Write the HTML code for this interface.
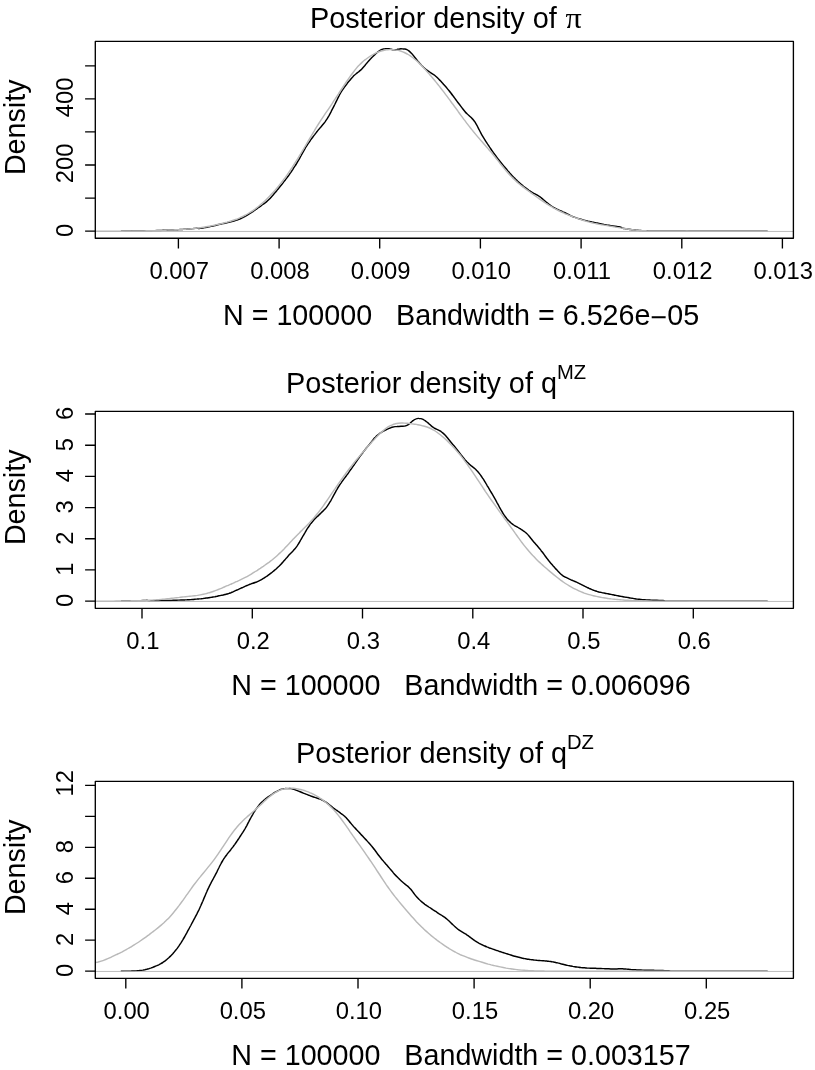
<!DOCTYPE html>
<html lang="en"><head><meta charset="utf-8"><title>Posterior densities</title>
<style>html,body{margin:0;padding:0;background:#fff}svg{display:block}text{white-space:pre;font-family:"Liberation Sans",Arial,Helvetica,sans-serif;fill:#000}.t{font-size:28.85px}.b{font-size:28.7px}.a{font-size:23.8px}.s{font-size:20.2px}.pi{font-family:"Liberation Serif","DejaVu Serif",serif;font-size:29.7px}</style></head><body>
<svg width="815" height="1070" viewBox="0 0 815 1070">
<rect width="815" height="1070" fill="#fff"/>
<g fill="none" stroke-linecap="butt" stroke-linejoin="round">
<path d="M120.9 231.2C121.2 231.2 122.2 231.2 122.9 231.1C123.5 231.1 124.2 231.1 124.9 231.1C125.5 231.1 126.2 231.1 126.9 231.1C127.5 231.1 128.2 231.1 128.9 231.1C129.5 231.1 130.2 231.1 130.9 231.1C131.5 231.1 132.2 231.1 132.9 231.0C133.5 231.0 134.2 231.0 134.9 231.0C135.5 231.0 136.2 231.0 136.9 231.0C137.5 231.0 138.2 231.0 138.9 230.9C139.5 230.9 140.2 230.9 140.9 230.9C141.5 230.9 142.2 230.9 142.9 230.9C143.5 230.9 144.2 230.8 144.9 230.8C145.5 230.8 146.2 230.8 146.9 230.8C147.5 230.8 148.2 230.7 148.9 230.7C149.5 230.7 150.2 230.7 150.9 230.7C151.5 230.7 152.2 230.6 152.9 230.6C153.5 230.6 154.2 230.6 154.9 230.6C155.5 230.5 156.2 230.5 156.9 230.5C157.5 230.5 158.2 230.5 158.9 230.4C159.5 230.4 160.2 230.4 160.9 230.4C161.5 230.4 162.2 230.3 162.9 230.3C163.5 230.3 164.2 230.3 164.9 230.2C165.5 230.2 166.2 230.2 166.9 230.2C167.5 230.1 168.2 230.1 168.9 230.1C169.5 230.0 170.2 230.0 170.9 230.0C171.5 230.0 172.2 229.9 172.9 229.9C173.5 229.9 174.2 229.8 174.9 229.8C175.5 229.8 176.2 229.7 176.9 229.7C177.5 229.7 178.2 229.6 178.9 229.6C179.5 229.6 180.2 229.5 180.9 229.5C181.5 229.4 182.2 229.4 182.9 229.4C183.5 229.3 184.2 229.3 184.9 229.2C185.5 229.2 186.2 229.1 186.9 229.1C187.5 229.0 188.2 229.0 188.9 228.9C189.5 228.9 190.2 228.8 190.9 228.8C191.5 228.7 192.2 228.7 192.9 228.6C193.5 228.5 194.2 228.5 194.9 228.4C195.5 228.3 196.2 228.2 196.9 228.2C197.5 228.2 198.2 228.5 198.9 228.5C199.5 228.5 200.2 228.3 200.9 228.2C201.5 228.2 202.2 228.1 202.9 228.0C203.5 227.9 204.2 227.7 204.9 227.6C205.5 227.5 206.2 227.4 206.9 227.3C207.5 227.1 208.2 227.0 208.9 226.8C209.5 226.7 210.2 226.6 210.9 226.4C211.5 226.3 212.2 226.1 212.9 226.0C213.5 225.8 214.2 225.6 214.9 225.5C215.5 225.3 216.2 225.2 216.9 225.0C217.5 224.9 218.2 224.7 218.9 224.5C219.5 224.4 220.2 224.2 220.9 224.1C221.5 223.9 222.2 223.8 222.9 223.6C223.5 223.5 224.2 223.3 224.9 223.2C225.5 223.0 226.2 222.9 226.9 222.7C227.5 222.6 228.2 222.4 228.9 222.3C229.5 222.1 230.2 222.0 230.9 221.8C231.5 221.6 232.2 221.4 232.9 221.3C233.5 221.1 234.2 220.9 234.9 220.7C235.5 220.5 236.2 220.3 236.9 220.1C237.5 219.9 238.2 219.6 238.9 219.4C239.5 219.1 240.2 218.8 240.9 218.5C241.5 218.2 242.2 217.9 242.9 217.6C243.5 217.2 244.2 216.9 244.9 216.5C245.5 216.1 246.2 215.8 246.9 215.4C247.5 215.0 248.2 214.6 248.9 214.2C249.5 213.8 250.2 213.4 250.9 212.9C251.5 212.5 252.2 212.1 252.9 211.6C253.5 211.1 254.2 210.7 254.9 210.2C255.5 209.7 256.2 209.2 256.9 208.8C257.5 208.3 258.2 207.8 258.9 207.4C259.5 206.9 260.2 206.4 260.9 206.0C261.5 205.5 262.2 205.0 262.9 204.5C263.5 204.0 264.2 203.6 264.9 203.0C265.5 202.5 266.2 202.0 266.9 201.4C267.5 200.8 268.2 200.2 268.9 199.5C269.5 198.9 270.2 198.2 270.9 197.4C271.5 196.7 272.2 195.9 272.9 195.2C273.5 194.4 274.2 193.6 274.9 192.8C275.5 192.0 276.2 191.2 276.9 190.4C277.5 189.6 278.2 188.8 278.9 188.0C279.5 187.2 280.2 186.4 280.9 185.6C281.5 184.8 282.2 184.0 282.9 183.1C283.5 182.3 284.2 181.4 284.9 180.6C285.5 179.7 286.2 178.8 286.9 177.9C287.5 177.0 288.2 176.1 288.9 175.2C289.5 174.2 290.2 173.3 290.9 172.3C291.5 171.3 292.2 170.3 292.9 169.3C293.5 168.3 294.2 167.3 294.9 166.2C295.5 165.2 296.2 164.1 296.9 163.0C297.5 161.9 298.2 160.8 298.9 159.6C299.5 158.5 300.2 157.3 300.9 156.0C301.5 154.8 302.2 153.6 302.9 152.4C303.5 151.2 304.2 150.0 304.9 148.8C305.5 147.7 306.2 146.6 306.9 145.6C307.5 144.5 308.2 143.5 308.9 142.6C309.5 141.6 310.2 140.7 310.9 139.7C311.5 138.8 312.2 137.9 312.9 137.0C313.5 136.2 314.2 135.3 314.9 134.4C315.5 133.5 316.2 132.7 316.9 131.8C317.5 131.0 318.2 130.1 318.9 129.3C319.5 128.5 320.2 127.8 320.9 127.0C321.5 126.2 322.2 125.4 322.9 124.6C323.5 123.8 324.2 123.0 324.9 122.1C325.5 121.2 326.2 120.2 326.9 119.2C327.5 118.1 328.2 117.0 328.9 115.8C329.5 114.7 330.2 113.4 330.9 112.1C331.5 110.8 332.2 109.5 332.9 108.2C333.5 106.9 334.2 105.6 334.9 104.2C335.5 102.9 336.2 101.5 336.9 100.1C337.5 98.8 338.2 97.4 338.9 96.1C339.5 94.9 340.2 93.7 340.9 92.5C341.5 91.4 342.2 90.4 342.9 89.4C343.5 88.4 344.2 87.5 344.9 86.5C345.5 85.6 346.2 84.7 346.9 83.9C347.5 83.0 348.2 82.1 348.9 81.3C349.5 80.5 350.2 79.7 350.9 78.9C351.5 78.2 352.2 77.4 352.9 76.7C353.5 76.0 354.2 75.4 354.9 74.8C355.5 74.2 356.2 73.7 356.9 73.1C357.5 72.6 358.2 72.1 358.9 71.6C359.5 71.1 360.2 70.5 360.9 69.9C361.5 69.3 362.2 68.6 362.9 67.8C363.5 67.1 364.2 66.3 364.9 65.5C365.5 64.7 366.2 63.8 366.9 63.0C367.5 62.2 368.2 61.5 368.9 60.7C369.5 60.0 370.2 59.2 370.9 58.5C371.5 57.8 372.2 57.1 372.9 56.5C373.5 55.8 374.2 55.2 374.9 54.6C375.5 53.9 376.2 53.4 376.9 52.8C377.5 52.2 378.2 51.7 378.9 51.2C379.5 50.7 380.2 50.3 380.9 49.9C381.5 49.6 382.2 49.3 382.9 49.1C383.5 49.0 384.2 48.8 384.9 48.8C385.5 48.7 386.2 48.6 386.9 48.6C387.5 48.6 388.2 48.7 388.9 48.8C389.5 48.9 390.2 49.1 390.9 49.2C391.5 49.4 392.2 49.6 392.9 49.7C393.5 49.7 394.2 49.8 394.9 49.8C395.5 49.7 396.2 49.6 396.9 49.5C397.5 49.4 398.2 49.2 398.9 49.1C399.5 49.0 400.2 48.9 400.9 48.8C401.5 48.8 402.2 48.8 402.9 48.9C403.5 48.9 404.2 48.9 404.9 49.0C405.5 49.1 406.2 49.3 406.9 49.6C407.5 49.9 408.2 50.3 408.9 50.9C409.5 51.4 410.2 52.0 410.9 52.7C411.5 53.4 412.2 54.1 412.9 54.9C413.5 55.7 414.2 56.6 414.9 57.5C415.5 58.3 416.2 59.2 416.9 60.0C417.5 60.8 418.2 61.6 418.9 62.3C419.5 63.1 420.2 63.9 420.9 64.6C421.5 65.3 422.2 66.0 422.9 66.6C423.5 67.3 424.2 67.9 424.9 68.5C425.5 69.0 426.2 69.6 426.9 70.1C427.5 70.6 428.2 71.1 428.9 71.5C429.5 72.0 430.2 72.4 430.9 72.8C431.5 73.2 432.2 73.6 432.9 74.1C433.5 74.5 434.2 75.0 434.9 75.5C435.5 76.0 436.2 76.6 436.9 77.2C437.5 77.9 438.2 78.5 438.9 79.2C439.5 79.9 440.2 80.6 440.9 81.3C441.5 82.1 442.2 82.8 442.9 83.5C443.5 84.3 444.2 85.0 444.9 85.8C445.5 86.5 446.2 87.3 446.9 88.1C447.5 88.9 448.2 89.7 448.9 90.5C449.5 91.3 450.2 92.2 450.9 93.0C451.5 93.9 452.2 94.8 452.9 95.7C453.5 96.6 454.2 97.5 454.9 98.4C455.5 99.3 456.2 100.2 456.9 101.1C457.5 102.0 458.2 102.9 458.9 103.8C459.5 104.6 460.2 105.5 460.9 106.4C461.5 107.3 462.2 108.2 462.9 109.0C463.5 109.9 464.2 110.7 464.9 111.5C465.5 112.3 466.2 113.0 466.9 113.6C467.5 114.3 468.2 114.9 468.9 115.5C469.5 116.1 470.2 116.7 470.9 117.3C471.5 118.0 472.2 118.6 472.9 119.3C473.5 120.1 474.2 120.9 474.9 121.9C475.5 122.9 476.2 124.1 476.9 125.3C477.5 126.5 478.2 128.0 478.9 129.3C479.5 130.6 480.2 131.9 480.9 133.1C481.5 134.3 482.2 135.5 482.9 136.6C483.5 137.7 484.2 138.8 484.9 139.8C485.5 140.9 486.2 141.9 486.9 143.0C487.5 144.0 488.2 145.0 488.9 146.0C489.5 147.0 490.2 148.0 490.9 149.0C491.5 149.9 492.2 150.9 492.9 151.9C493.5 152.8 494.2 153.7 494.9 154.7C495.5 155.6 496.2 156.5 496.9 157.4C497.5 158.3 498.2 159.2 498.9 160.0C499.5 160.9 500.2 161.7 500.9 162.5C501.5 163.3 502.2 164.1 502.9 164.9C503.5 165.7 504.2 166.4 504.9 167.2C505.5 168.0 506.2 168.8 506.9 169.6C507.5 170.4 508.2 171.2 508.9 171.9C509.5 172.7 510.2 173.5 510.9 174.2C511.5 175.0 512.2 175.7 512.9 176.4C513.5 177.1 514.2 177.8 514.9 178.4C515.5 179.1 516.2 179.8 516.9 180.4C517.5 181.1 518.2 181.7 518.9 182.3C519.5 182.9 520.2 183.5 520.9 184.1C521.5 184.7 522.2 185.2 522.9 185.8C523.5 186.3 524.2 186.9 524.9 187.4C525.5 187.9 526.2 188.4 526.9 188.9C527.5 189.4 528.2 189.9 528.9 190.4C529.5 190.8 530.2 191.3 530.9 191.7C531.5 192.1 532.2 192.5 532.9 192.9C533.5 193.3 534.2 193.6 534.9 193.9C535.5 194.2 536.2 194.5 536.9 194.9C537.5 195.3 538.2 195.6 538.9 196.1C539.5 196.5 540.2 197.0 540.9 197.5C541.5 198.1 542.2 198.7 542.9 199.2C543.5 199.8 544.2 200.3 544.9 200.9C545.5 201.5 546.2 202.0 546.9 202.6C547.5 203.1 548.2 203.7 548.9 204.2C549.5 204.7 550.2 205.2 550.9 205.7C551.5 206.1 552.2 206.6 552.9 207.0C553.5 207.4 554.2 207.7 554.9 208.1C555.5 208.5 556.2 208.8 556.9 209.2C557.5 209.5 558.2 209.8 558.9 210.1C559.5 210.5 560.2 210.7 560.9 211.0C561.5 211.3 562.2 211.6 562.9 211.9C563.5 212.1 564.2 212.4 564.9 212.7C565.5 213.0 566.2 213.3 566.9 213.7C567.5 214.0 568.2 214.4 568.9 214.7C569.5 215.1 570.2 215.4 570.9 215.8C571.5 216.1 572.2 216.4 572.9 216.7C573.5 216.9 574.2 217.2 574.9 217.4C575.5 217.7 576.2 217.9 576.9 218.1C577.5 218.3 578.2 218.5 578.9 218.7C579.5 218.9 580.2 219.1 580.9 219.3C581.5 219.5 582.2 219.7 582.9 219.9C583.5 220.1 584.2 220.3 584.9 220.4C585.5 220.6 586.2 220.8 586.9 220.9C587.5 221.1 588.2 221.2 588.9 221.4C589.5 221.5 590.2 221.7 590.9 221.8C591.5 221.9 592.2 222.1 592.9 222.2C593.5 222.3 594.2 222.4 594.9 222.6C595.5 222.7 596.2 222.8 596.9 223.0C597.5 223.1 598.2 223.2 598.9 223.4C599.5 223.5 600.2 223.6 600.9 223.8C601.5 223.9 602.2 224.1 602.9 224.2C603.5 224.3 604.2 224.5 604.9 224.6C605.5 224.7 606.2 224.8 606.9 225.0C607.5 225.1 608.2 225.2 608.9 225.3C609.5 225.4 610.2 225.5 610.9 225.6C611.5 225.7 612.2 225.8 612.9 225.9C613.5 226.0 614.2 226.1 614.9 226.2C615.5 226.3 616.2 226.4 616.9 226.5C617.5 226.6 618.2 226.7 618.9 226.8C619.5 227.0 620.2 227.0 620.9 227.2C621.5 227.5 622.2 228.1 622.9 228.3C623.5 228.5 624.2 228.5 624.9 228.6C625.5 228.7 626.2 228.8 626.9 228.9C627.5 229.0 628.2 229.1 628.9 229.2C629.5 229.3 630.2 229.4 630.9 229.5C631.5 229.6 632.2 229.7 632.9 229.8C633.5 229.8 634.2 229.9 634.9 230.0C635.5 230.1 636.2 230.1 636.9 230.2C637.5 230.3 638.2 230.3 638.9 230.4C639.5 230.4 640.2 230.5 640.9 230.5C641.5 230.6 642.2 230.6 642.9 230.7C643.5 230.7 644.2 230.7 644.9 230.8C645.5 230.8 646.2 230.8 646.9 230.8C647.5 230.9 648.2 230.9 648.9 230.9C649.5 230.9 650.2 230.9 650.9 230.9C651.5 230.9 652.2 231.0 652.9 231.0C653.5 231.0 654.2 231.0 654.9 231.0C655.5 231.0 656.2 231.0 656.9 231.0C657.5 231.0 658.2 231.0 658.9 231.0C659.5 231.0 660.2 231.0 660.9 231.0C661.5 231.0 662.2 230.9 662.9 230.9C663.5 230.9 664.2 230.9 664.9 230.9C665.5 230.9 666.2 230.9 666.9 230.9C667.5 230.9 668.2 230.9 668.9 230.9C669.5 230.9 670.2 231.0 670.9 231.0C671.5 231.0 672.2 231.0 672.9 231.0C673.5 231.0 674.2 231.0 674.9 231.0C675.5 231.0 676.2 231.0 676.9 231.0C677.5 231.0 678.2 231.0 678.9 231.0C679.5 231.0 680.2 231.0 680.9 231.0C681.5 231.0 682.2 231.0 682.9 231.0C683.5 231.0 684.2 231.0 684.9 231.0C685.5 231.0 686.2 231.0 686.9 231.1C687.5 231.1 688.2 231.1 688.9 231.1C689.5 231.1 690.2 231.1 690.9 231.1C691.5 231.1 692.2 231.1 692.9 231.1C693.5 231.1 694.2 231.1 694.9 231.1C695.5 231.1 696.2 231.1 696.9 231.1C697.5 231.1 698.2 231.1 698.9 231.1C699.5 231.1 700.2 231.1 700.9 231.1C701.5 231.1 702.2 231.1 702.9 231.1C703.5 231.1 704.2 231.1 704.9 231.1C705.5 231.1 706.2 231.1 706.9 231.1C707.5 231.1 708.2 231.1 708.9 231.1C709.5 231.1 710.2 231.1 710.9 231.1C711.5 231.1 712.2 231.1 712.9 231.1C713.5 231.1 714.2 231.1 714.9 231.1C715.5 231.1 716.2 231.1 716.9 231.1C717.5 231.1 718.2 231.1 718.9 231.1C719.5 231.1 720.2 231.1 720.9 231.1C721.5 231.1 722.2 231.1 722.9 231.1C723.5 231.1 724.2 231.1 724.9 231.1C725.5 231.1 726.2 231.1 726.9 231.1C727.5 231.1 728.2 231.1 728.9 231.1C729.5 231.1 730.2 231.1 730.9 231.1C731.5 231.1 732.2 231.1 732.9 231.1C733.5 231.1 734.2 231.1 734.9 231.1C735.5 231.1 736.2 231.1 736.9 231.1C737.5 231.1 738.2 231.1 738.9 231.1C739.5 231.1 740.2 231.1 740.9 231.1C741.5 231.1 742.2 231.1 742.9 231.1C743.5 231.1 744.2 231.1 744.9 231.1C745.5 231.1 746.2 231.1 746.9 231.1C747.5 231.1 748.2 231.1 748.9 231.1C749.5 231.1 750.2 231.1 750.9 231.1C751.5 231.1 752.2 231.1 752.9 231.1C753.5 231.1 754.2 231.1 754.9 231.1C755.5 231.1 756.2 231.1 756.9 231.1C757.5 231.1 758.2 231.1 758.9 231.1C759.5 231.1 760.2 231.1 760.9 231.1C761.5 231.1 762.2 231.1 762.9 231.1C763.5 231.1 764.2 231.1 764.9 231.1C765.5 231.1 766.4 231.1 766.9 231.1C767.3 231.1 767.4 231.1 767.5 231.1" stroke="#000" stroke-width="1.45"/>
<path d="M95.3 231.45H793.4" stroke="#b4b4b4" stroke-width="0.9"/>
<path d="M95.3 231.2C95.8 231.2 97.3 231.2 98.3 231.2C99.3 231.2 100.3 231.2 101.3 231.2C102.3 231.2 103.3 231.2 104.3 231.2C105.3 231.2 106.3 231.2 107.3 231.2C108.3 231.2 109.3 231.2 110.3 231.2C111.3 231.2 112.3 231.2 113.3 231.2C114.3 231.2 115.3 231.2 116.3 231.2C117.3 231.2 118.3 231.2 119.3 231.2C120.3 231.2 121.3 231.2 122.3 231.2C123.3 231.1 124.3 231.1 125.3 231.1C126.3 231.1 127.3 231.1 128.3 231.1C129.3 231.1 130.3 231.1 131.3 231.1C132.3 231.1 133.3 231.0 134.3 231.0C135.3 231.0 136.3 231.0 137.3 231.0C138.3 231.0 139.3 230.9 140.3 230.9C141.3 230.9 142.3 230.9 143.3 230.9C144.3 230.8 145.3 230.8 146.3 230.8C147.3 230.8 148.3 230.7 149.3 230.7C150.3 230.7 151.3 230.7 152.3 230.6C153.3 230.6 154.3 230.6 155.3 230.6C156.3 230.5 157.3 230.5 158.3 230.5C159.3 230.4 160.3 230.4 161.3 230.4C162.3 230.3 163.3 230.3 164.3 230.3C165.3 230.2 166.3 230.2 167.3 230.1C168.3 230.1 169.3 230.1 170.3 230.0C171.3 230.0 172.3 229.9 173.3 229.9C174.3 229.8 175.3 229.8 176.3 229.7C177.3 229.7 178.3 229.6 179.3 229.6C180.3 229.5 181.3 229.4 182.3 229.4C183.3 229.3 184.3 229.3 185.3 229.2C186.3 229.1 187.3 229.1 188.3 229.0C189.3 228.9 190.3 228.8 191.3 228.7C192.3 228.7 193.3 228.6 194.3 228.5C195.3 228.4 196.3 228.3 197.3 228.1C198.3 228.0 199.3 227.9 200.3 227.7C201.3 227.6 202.3 227.5 203.3 227.3C204.3 227.1 205.3 227.0 206.3 226.8C207.3 226.6 208.3 226.4 209.3 226.2C210.3 226.0 211.3 225.8 212.3 225.6C213.3 225.4 214.3 225.2 215.3 225.0C216.3 224.7 217.3 224.5 218.3 224.3C219.3 224.1 220.3 223.8 221.3 223.6C222.3 223.3 223.3 223.1 224.3 222.8C225.3 222.6 226.3 222.3 227.3 222.1C228.3 221.8 229.3 221.5 230.3 221.2C231.3 220.9 232.3 220.6 233.3 220.3C234.3 220.0 235.3 219.6 236.3 219.3C237.3 218.9 238.3 218.5 239.3 218.1C240.3 217.7 241.3 217.2 242.3 216.7C243.3 216.3 244.3 215.8 245.3 215.2C246.3 214.7 247.3 214.1 248.3 213.5C249.3 212.9 250.3 212.3 251.3 211.6C252.3 211.0 253.3 210.3 254.3 209.6C255.3 208.9 256.3 208.1 257.3 207.3C258.3 206.6 259.3 205.7 260.3 204.9C261.3 204.0 262.3 203.1 263.3 202.2C264.3 201.3 265.3 200.4 266.3 199.4C267.3 198.4 268.3 197.4 269.3 196.4C270.3 195.4 271.3 194.4 272.3 193.3C273.3 192.2 274.3 191.1 275.3 190.0C276.3 188.8 277.3 187.6 278.3 186.4C279.3 185.2 280.3 184.0 281.3 182.7C282.3 181.4 283.3 180.1 284.3 178.8C285.3 177.4 286.3 176.0 287.3 174.6C288.3 173.2 289.3 171.7 290.3 170.2C291.3 168.7 292.3 167.2 293.3 165.6C294.3 164.1 295.3 162.5 296.3 160.9C297.3 159.3 298.3 157.7 299.3 156.0C300.3 154.4 301.3 152.7 302.3 151.0C303.3 149.4 304.3 147.7 305.3 146.0C306.3 144.3 307.3 142.6 308.3 140.9C309.3 139.2 310.3 137.5 311.3 135.8C312.3 134.1 313.3 132.4 314.3 130.8C315.3 129.1 316.3 127.5 317.3 125.9C318.3 124.3 319.3 122.7 320.3 121.1C321.3 119.6 322.3 118.1 323.3 116.6C324.3 115.2 325.3 113.7 326.3 112.2C327.3 110.8 328.3 109.3 329.3 107.8C330.3 106.3 331.3 104.8 332.3 103.3C333.3 101.7 334.3 100.2 335.3 98.7C336.3 97.1 337.3 95.6 338.3 94.1C339.3 92.5 340.3 91.0 341.3 89.5C342.3 88.0 343.3 86.5 344.3 85.0C345.3 83.5 346.3 82.0 347.3 80.5C348.3 79.1 349.3 77.6 350.3 76.2C351.3 74.8 352.3 73.5 353.3 72.2C354.3 70.9 355.3 69.6 356.3 68.4C357.3 67.2 358.3 66.1 359.3 65.1C360.3 64.0 361.3 63.0 362.3 62.1C363.3 61.2 364.3 60.4 365.3 59.7C366.3 58.9 367.3 58.2 368.3 57.5C369.3 56.8 370.3 56.1 371.3 55.5C372.3 54.9 373.3 54.3 374.3 53.8C375.3 53.3 376.3 52.8 377.3 52.4C378.3 52.0 379.3 51.6 380.3 51.3C381.3 51.0 382.3 50.7 383.3 50.5C384.3 50.2 385.3 50.1 386.3 49.9C387.3 49.8 388.3 49.7 389.3 49.6C390.3 49.6 391.3 49.6 392.3 49.6C393.3 49.7 394.3 49.7 395.3 49.9C396.3 50.0 397.3 50.2 398.3 50.4C399.3 50.7 400.3 51.0 401.3 51.3C402.3 51.7 403.3 52.1 404.3 52.5C405.3 53.0 406.3 53.5 407.3 54.0C408.3 54.6 409.3 55.2 410.3 55.9C411.3 56.6 412.3 57.3 413.3 58.0C414.3 58.8 415.3 59.6 416.3 60.5C417.3 61.4 418.3 62.3 419.3 63.3C420.3 64.3 421.3 65.3 422.3 66.3C423.3 67.4 424.3 68.4 425.3 69.5C426.3 70.6 427.3 71.8 428.3 72.9C429.3 74.1 430.3 75.2 431.3 76.4C432.3 77.6 433.3 78.8 434.3 80.0C435.3 81.2 436.3 82.5 437.3 83.7C438.3 85.0 439.3 86.2 440.3 87.5C441.3 88.8 442.3 90.1 443.3 91.4C444.3 92.7 445.3 94.1 446.3 95.4C447.3 96.7 448.3 98.1 449.3 99.4C450.3 100.8 451.3 102.1 452.3 103.5C453.3 104.8 454.3 106.2 455.3 107.5C456.3 108.9 457.3 110.3 458.3 111.7C459.3 113.0 460.3 114.4 461.3 115.8C462.3 117.2 463.3 118.5 464.3 119.9C465.3 121.2 466.3 122.6 467.3 123.9C468.3 125.2 469.3 126.5 470.3 127.7C471.3 129.0 472.3 130.2 473.3 131.5C474.3 132.7 475.3 133.9 476.3 135.1C477.3 136.3 478.3 137.5 479.3 138.6C480.3 139.8 481.3 140.9 482.3 142.0C483.3 143.2 484.3 144.3 485.3 145.4C486.3 146.5 487.3 147.7 488.3 148.9C489.3 150.0 490.3 151.2 491.3 152.4C492.3 153.6 493.3 154.9 494.3 156.1C495.3 157.4 496.3 158.6 497.3 159.9C498.3 161.1 499.3 162.4 500.3 163.7C501.3 164.9 502.3 166.1 503.3 167.4C504.3 168.6 505.3 169.8 506.3 171.0C507.3 172.1 508.3 173.3 509.3 174.4C510.3 175.5 511.3 176.5 512.3 177.5C513.3 178.6 514.3 179.5 515.3 180.5C516.3 181.4 517.3 182.3 518.3 183.2C519.3 184.0 520.3 184.9 521.3 185.6C522.3 186.4 523.3 187.2 524.3 187.9C525.3 188.7 526.3 189.4 527.3 190.1C528.3 190.8 529.3 191.5 530.3 192.3C531.3 193.0 532.3 193.7 533.3 194.5C534.3 195.2 535.3 195.9 536.3 196.7C537.3 197.4 538.3 198.1 539.3 198.8C540.3 199.5 541.3 200.2 542.3 200.9C543.3 201.6 544.3 202.3 545.3 203.0C546.3 203.6 547.3 204.3 548.3 204.9C549.3 205.5 550.3 206.1 551.3 206.7C552.3 207.3 553.3 207.8 554.3 208.4C555.3 208.9 556.3 209.5 557.3 210.0C558.3 210.5 559.3 211.0 560.3 211.5C561.3 211.9 562.3 212.4 563.3 212.9C564.3 213.3 565.3 213.8 566.3 214.2C567.3 214.6 568.3 215.0 569.3 215.4C570.3 215.8 571.3 216.2 572.3 216.6C573.3 217.0 574.3 217.3 575.3 217.7C576.3 218.0 577.3 218.4 578.3 218.7C579.3 219.1 580.3 219.4 581.3 219.7C582.3 220.1 583.3 220.4 584.3 220.7C585.3 221.0 586.3 221.3 587.3 221.6C588.3 221.8 589.3 222.1 590.3 222.4C591.3 222.6 592.3 222.9 593.3 223.1C594.3 223.3 595.3 223.5 596.3 223.8C597.3 224.0 598.3 224.2 599.3 224.4C600.3 224.6 601.3 224.7 602.3 224.9C603.3 225.1 604.3 225.3 605.3 225.4C606.3 225.6 607.3 225.8 608.3 225.9C609.3 226.1 610.3 226.3 611.3 226.4C612.3 226.6 613.3 226.7 614.3 226.9C615.3 227.1 616.3 227.2 617.3 227.4C618.3 227.5 619.3 227.7 620.3 227.9C621.3 228.0 622.3 228.2 623.3 228.3C624.3 228.5 625.3 228.7 626.3 228.8C627.3 229.0 628.3 229.1 629.3 229.3C630.3 229.4 631.3 229.6 632.3 229.7C633.3 229.8 634.3 229.9 635.3 230.1C636.3 230.2 637.3 230.3 638.3 230.4C639.3 230.4 640.3 230.5 641.3 230.6C642.3 230.6 643.3 230.7 644.3 230.7C645.3 230.8 646.3 230.8 647.3 230.9C648.3 230.9 649.3 230.9 650.3 230.9C651.3 230.9 652.3 231.0 653.3 231.0C654.3 231.0 655.3 231.0 656.3 231.0C657.3 231.0 658.3 231.0 659.3 231.0C660.3 231.0 661.3 231.0 662.3 230.9C663.3 230.9 664.3 230.9 665.3 230.9C666.3 230.9 667.3 230.9 668.3 230.9C669.3 230.9 670.3 231.0 671.3 231.0C672.3 231.0 673.3 231.0 674.3 231.0C675.3 231.0 676.3 231.0 677.3 231.0C678.3 231.0 679.3 231.0 680.3 231.0C681.3 231.0 682.3 231.0 683.3 231.0C684.3 231.0 685.3 231.0 686.3 231.0C687.3 231.1 688.3 231.1 689.3 231.1C690.3 231.1 691.3 231.1 692.3 231.1C693.3 231.1 694.3 231.1 695.3 231.1C696.3 231.1 697.3 231.1 698.3 231.1C699.3 231.1 700.3 231.1 701.3 231.1C702.3 231.1 703.3 231.1 704.3 231.1C705.3 231.1 706.3 231.1 707.3 231.1C708.3 231.1 709.3 231.1 710.3 231.1C711.3 231.1 712.3 231.1 713.3 231.1C714.3 231.1 715.3 231.1 716.3 231.1C717.3 231.1 718.3 231.1 719.3 231.1C720.3 231.1 721.3 231.1 722.3 231.1C723.3 231.1 724.3 231.1 725.3 231.1C726.3 231.1 727.3 231.1 728.3 231.1C729.3 231.1 730.3 231.1 731.3 231.1C732.3 231.1 733.3 231.1 734.3 231.1C735.3 231.1 736.3 231.1 737.3 231.1C738.3 231.1 739.3 231.1 740.3 231.1C741.3 231.1 742.3 231.1 743.3 231.1C744.3 231.1 745.3 231.1 746.3 231.1C747.3 231.1 748.3 231.1 749.3 231.1C750.3 231.1 751.3 231.1 752.3 231.1C753.3 231.1 754.3 231.1 755.3 231.1C756.3 231.1 757.3 231.1 758.3 231.1C759.3 231.1 760.3 231.1 761.3 231.1C762.3 231.1 763.3 231.1 764.3 231.1C765.3 231.1 766.8 231.1 767.3 231.1C767.8 231.1 767.5 231.1 767.5 231.1" stroke="#b9b9b9" stroke-width="1.45"/>
<rect x="95.3" y="41.4" width="698.1" height="196.9" stroke="#000" stroke-width="1.35"/>
<path d="M178.4 238.3v10.2M279.1 238.3v10.2M379.7 238.3v10.2M480.4 238.3v10.2M581.1 238.3v10.2M681.8 238.3v10.2M782.4 238.3v10.2M95.3 231.1h-10.2M95.3 198.1h-10.2M95.3 165.0h-10.2M95.3 131.9h-10.2M95.3 98.9h-10.2M95.3 65.8h-10.2" stroke="#000" stroke-width="1.35"/>
</g>
<text class="a" x="179.3" y="278.9" text-anchor="middle">0.007</text>
<text class="a" x="280.0" y="278.9" text-anchor="middle">0.008</text>
<text class="a" x="380.6" y="278.9" text-anchor="middle">0.009</text>
<text class="a" x="481.3" y="278.9" text-anchor="middle">0.010</text>
<text class="a" x="582.0" y="278.9" text-anchor="middle">0.011</text>
<text class="a" x="682.6" y="278.9" text-anchor="middle">0.012</text>
<text class="a" x="783.3" y="278.9" text-anchor="middle">0.013</text>
<text class="a" transform="translate(73.0 230.4) rotate(-90)" text-anchor="middle">0</text>
<text class="a" transform="translate(73.0 163.4) rotate(-90)" text-anchor="middle">200</text>
<text class="a" transform="translate(73.0 97.3) rotate(-90)" text-anchor="middle">400</text>
<text class="b" transform="translate(24.8 175.1) rotate(-90)">Density</text>
<text class="b" x="223.0" y="324.6" xml:space="preserve">N = 100000   Bandwidth = 6.526e<tspan dy="2.8">−</tspan><tspan dy="-2.8">05</tspan></text>
<text class="t" x="309.9" y="28.4" xml:space="preserve">Posterior density of </text><text class="pi" transform="translate(565.6 28.4) scale(1.08 1)">π</text>
<g fill="none" stroke-linecap="butt" stroke-linejoin="round">
<path d="M121.0 601.0C121.3 601.0 122.3 601.0 123.0 601.0C123.7 601.0 124.3 601.0 125.0 600.9C125.7 600.9 126.3 600.9 127.0 600.9C127.7 600.9 128.3 600.9 129.0 600.9C129.7 600.9 130.3 600.8 131.0 600.8C131.7 600.8 132.3 600.8 133.0 600.8C133.7 600.8 134.3 600.8 135.0 600.7C135.7 600.7 136.3 600.7 137.0 600.7C137.7 600.7 138.3 600.6 139.0 600.6C139.7 600.6 140.3 600.6 141.0 600.6C141.7 600.5 142.3 600.5 143.0 600.5C143.7 600.5 144.3 600.4 145.0 600.4C145.7 600.4 146.3 600.3 147.0 600.3C147.7 600.4 148.3 600.8 149.0 600.9C149.7 600.9 150.3 600.8 151.0 600.8C151.7 600.8 152.3 600.8 153.0 600.8C153.7 600.8 154.3 600.8 155.0 600.7C155.7 600.7 156.3 600.7 157.0 600.7C157.7 600.7 158.3 600.7 159.0 600.7C159.7 600.7 160.3 600.6 161.0 600.6C161.7 600.6 162.3 600.6 163.0 600.6C163.7 600.6 164.3 600.5 165.0 600.5C165.7 600.5 166.3 600.5 167.0 600.5C167.7 600.5 168.3 600.4 169.0 600.4C169.7 600.4 170.3 600.4 171.0 600.4C171.7 600.4 172.3 600.3 173.0 600.3C173.7 600.3 174.3 600.3 175.0 600.3C175.7 600.2 176.3 600.2 177.0 600.2C177.7 600.2 178.3 600.1 179.0 600.1C179.7 600.1 180.3 600.1 181.0 600.0C181.7 600.0 182.3 600.0 183.0 600.0C183.7 599.9 184.3 599.9 185.0 599.9C185.7 599.8 186.3 599.8 187.0 599.8C187.7 599.7 188.3 599.7 189.0 599.7C189.7 599.6 190.3 599.6 191.0 599.6C191.7 599.5 192.3 599.5 193.0 599.4C193.7 599.4 194.3 599.3 195.0 599.2C195.7 599.2 196.3 599.1 197.0 599.1C197.7 599.0 198.3 598.9 199.0 598.9C199.7 598.8 200.3 598.7 201.0 598.7C201.7 598.6 202.3 598.5 203.0 598.5C203.7 598.4 204.3 598.3 205.0 598.2C205.7 598.1 206.3 598.0 207.0 597.9C207.7 597.9 208.3 597.8 209.0 597.7C209.7 597.6 210.3 597.5 211.0 597.4C211.7 597.3 212.3 597.1 213.0 597.0C213.7 596.9 214.3 596.8 215.0 596.7C215.7 596.5 216.3 596.4 217.0 596.3C217.7 596.1 218.3 596.0 219.0 595.8C219.7 595.7 220.3 595.6 221.0 595.4C221.7 595.3 222.3 595.1 223.0 595.0C223.7 594.8 224.3 594.7 225.0 594.5C225.7 594.3 226.3 594.2 227.0 594.0C227.7 593.8 228.3 593.6 229.0 593.4C229.7 593.2 230.3 592.9 231.0 592.7C231.7 592.4 232.3 592.2 233.0 591.9C233.7 591.6 234.3 591.3 235.0 590.9C235.7 590.6 236.3 590.3 237.0 590.0C237.7 589.7 238.3 589.4 239.0 589.1C239.7 588.8 240.3 588.5 241.0 588.2C241.7 587.9 242.3 587.6 243.0 587.3C243.7 587.0 244.3 586.7 245.0 586.4C245.7 586.1 246.3 585.8 247.0 585.5C247.7 585.2 248.3 585.0 249.0 584.7C249.7 584.4 250.3 584.2 251.0 583.9C251.7 583.7 252.3 583.5 253.0 583.2C253.7 583.0 254.3 582.8 255.0 582.5C255.7 582.3 256.3 582.1 257.0 581.8C257.7 581.5 258.3 581.2 259.0 580.9C259.7 580.6 260.3 580.3 261.0 579.9C261.7 579.5 262.3 579.1 263.0 578.7C263.7 578.3 264.3 577.9 265.0 577.4C265.7 577.0 266.3 576.5 267.0 576.1C267.7 575.6 268.3 575.1 269.0 574.6C269.7 574.1 270.3 573.7 271.0 573.1C271.7 572.6 272.3 572.1 273.0 571.5C273.7 571.0 274.3 570.4 275.0 569.8C275.7 569.3 276.3 568.7 277.0 568.1C277.7 567.4 278.3 566.8 279.0 566.2C279.7 565.5 280.3 564.9 281.0 564.2C281.7 563.5 282.3 562.8 283.0 562.0C283.7 561.2 284.3 560.5 285.0 559.7C285.7 558.9 286.3 558.1 287.0 557.4C287.7 556.6 288.3 555.9 289.0 555.1C289.7 554.4 290.3 553.7 291.0 553.0C291.7 552.4 292.3 551.7 293.0 551.0C293.7 550.2 294.3 549.5 295.0 548.7C295.7 547.9 296.3 547.0 297.0 546.1C297.7 545.1 298.3 544.1 299.0 543.0C299.7 541.9 300.3 540.7 301.0 539.5C301.7 538.4 302.3 537.2 303.0 536.0C303.7 534.9 304.3 533.7 305.0 532.6C305.7 531.4 306.3 530.3 307.0 529.2C307.7 528.2 308.3 527.1 309.0 526.2C309.7 525.2 310.3 524.3 311.0 523.4C311.7 522.6 312.3 521.8 313.0 521.0C313.7 520.2 314.3 519.5 315.0 518.8C315.7 518.1 316.3 517.5 317.0 516.8C317.7 516.2 318.3 515.6 319.0 514.9C319.7 514.3 320.3 513.7 321.0 513.0C321.7 512.4 322.3 511.8 323.0 511.1C323.7 510.5 324.3 509.9 325.0 509.1C325.7 508.3 326.3 507.5 327.0 506.6C327.7 505.7 328.3 504.7 329.0 503.6C329.7 502.5 330.3 501.4 331.0 500.3C331.7 499.1 332.3 497.9 333.0 496.7C333.7 495.5 334.3 494.2 335.0 492.9C335.7 491.7 336.3 490.4 337.0 489.3C337.7 488.1 338.3 487.0 339.0 486.0C339.7 484.9 340.3 484.0 341.0 483.1C341.7 482.1 342.3 481.2 343.0 480.3C343.7 479.4 344.3 478.5 345.0 477.6C345.7 476.7 346.3 475.8 347.0 474.9C347.7 474.0 348.3 473.1 349.0 472.1C349.7 471.2 350.3 470.2 351.0 469.3C351.7 468.3 352.3 467.4 353.0 466.4C353.7 465.5 354.3 464.5 355.0 463.6C355.7 462.6 356.3 461.7 357.0 460.7C357.7 459.8 358.3 458.8 359.0 457.8C359.7 456.9 360.3 455.9 361.0 455.0C361.7 454.1 362.3 453.2 363.0 452.4C363.7 451.5 364.3 450.6 365.0 449.8C365.7 449.0 366.3 448.1 367.0 447.3C367.7 446.5 368.3 445.7 369.0 444.9C369.7 444.1 370.3 443.2 371.0 442.4C371.7 441.6 372.3 440.7 373.0 439.9C373.7 439.1 374.3 438.3 375.0 437.6C375.7 436.9 376.3 436.2 377.0 435.6C377.7 435.0 378.3 434.5 379.0 434.0C379.7 433.5 380.3 433.1 381.0 432.7C381.7 432.2 382.3 431.8 383.0 431.4C383.7 431.0 384.3 430.7 385.0 430.3C385.7 430.0 386.3 429.6 387.0 429.3C387.7 429.0 388.3 428.7 389.0 428.4C389.7 428.2 390.3 427.9 391.0 427.6C391.7 427.4 392.3 427.2 393.0 427.0C393.7 426.8 394.3 426.7 395.0 426.6C395.7 426.5 396.3 426.5 397.0 426.5C397.7 426.4 398.3 426.4 399.0 426.4C399.7 426.4 400.3 426.4 401.0 426.3C401.7 426.3 402.3 426.3 403.0 426.2C403.7 426.1 404.3 426.1 405.0 426.0C405.7 425.8 406.3 425.7 407.0 425.3C407.7 425.0 408.3 424.6 409.0 424.1C409.7 423.6 410.3 423.0 411.0 422.4C411.7 421.9 412.3 421.2 413.0 420.7C413.7 420.2 414.3 419.7 415.0 419.4C415.7 419.0 416.3 418.8 417.0 418.6C417.7 418.4 418.3 418.3 419.0 418.4C419.7 418.4 420.3 418.4 421.0 418.6C421.7 418.8 422.3 419.1 423.0 419.4C423.7 419.8 424.3 420.2 425.0 420.6C425.7 421.1 426.3 421.5 427.0 422.0C427.7 422.6 428.3 423.2 429.0 423.8C429.7 424.3 430.3 425.0 431.0 425.6C431.7 426.2 432.3 426.7 433.0 427.2C433.7 427.7 434.3 428.2 435.0 428.5C435.7 428.9 436.3 429.1 437.0 429.4C437.7 429.7 438.3 430.0 439.0 430.3C439.7 430.7 440.3 431.1 441.0 431.5C441.7 432.0 442.3 432.5 443.0 433.1C443.7 433.7 444.3 434.3 445.0 435.0C445.7 435.7 446.3 436.5 447.0 437.3C447.7 438.1 448.3 439.0 449.0 439.8C449.7 440.6 450.3 441.5 451.0 442.3C451.7 443.1 452.3 443.9 453.0 444.7C453.7 445.5 454.3 446.2 455.0 447.0C455.7 447.9 456.3 448.7 457.0 449.5C457.7 450.4 458.3 451.3 459.0 452.1C459.7 453.0 460.3 453.9 461.0 454.8C461.7 455.6 462.3 456.5 463.0 457.3C463.7 458.1 464.3 458.9 465.0 459.7C465.7 460.4 466.3 461.2 467.0 461.9C467.7 462.6 468.3 463.3 469.0 463.9C469.7 464.5 470.3 465.0 471.0 465.6C471.7 466.1 472.3 466.5 473.0 467.1C473.7 467.6 474.3 468.1 475.0 468.7C475.7 469.3 476.3 470.0 477.0 470.8C477.7 471.5 478.3 472.3 479.0 473.1C479.7 474.0 480.3 474.9 481.0 475.8C481.7 476.7 482.3 477.7 483.0 478.7C483.7 479.7 484.3 480.8 485.0 481.9C485.7 483.0 486.3 484.1 487.0 485.3C487.7 486.4 488.3 487.5 489.0 488.6C489.7 489.7 490.3 490.9 491.0 492.0C491.7 493.1 492.3 494.3 493.0 495.4C493.7 496.6 494.3 497.7 495.0 498.9C495.7 500.1 496.3 501.3 497.0 502.6C497.7 503.8 498.3 505.1 499.0 506.3C499.7 507.5 500.3 508.7 501.0 509.9C501.7 511.1 502.3 512.2 503.0 513.3C503.7 514.4 504.3 515.4 505.0 516.3C505.7 517.2 506.3 518.1 507.0 518.9C507.7 519.7 508.3 520.4 509.0 521.1C509.7 521.8 510.3 522.4 511.0 523.0C511.7 523.6 512.3 524.1 513.0 524.5C513.7 525.0 514.3 525.4 515.0 525.8C515.7 526.2 516.3 526.5 517.0 526.9C517.7 527.3 518.3 527.7 519.0 528.1C519.7 528.5 520.3 528.9 521.0 529.3C521.7 529.7 522.3 530.1 523.0 530.6C523.7 531.0 524.3 531.4 525.0 532.0C525.7 532.5 526.3 533.1 527.0 533.8C527.7 534.4 528.3 535.2 529.0 536.0C529.7 536.8 530.3 537.7 531.0 538.5C531.7 539.3 532.3 540.2 533.0 541.0C533.7 541.8 534.3 542.5 535.0 543.3C535.7 544.1 536.3 544.8 537.0 545.6C537.7 546.4 538.3 547.1 539.0 547.9C539.7 548.7 540.3 549.5 541.0 550.4C541.7 551.2 542.3 552.1 543.0 553.0C543.7 553.9 544.3 554.9 545.0 555.8C545.7 556.7 546.3 557.6 547.0 558.4C547.7 559.3 548.3 560.1 549.0 561.0C549.7 561.8 550.3 562.6 551.0 563.4C551.7 564.2 552.3 564.9 553.0 565.7C553.7 566.4 554.3 567.2 555.0 567.9C555.7 568.7 556.3 569.4 557.0 570.1C557.7 570.9 558.3 571.6 559.0 572.3C559.7 573.0 560.3 573.7 561.0 574.3C561.7 574.9 562.3 575.4 563.0 575.8C563.7 576.3 564.3 576.6 565.0 577.0C565.7 577.3 566.3 577.6 567.0 577.9C567.7 578.3 568.3 578.5 569.0 578.9C569.7 579.2 570.3 579.5 571.0 579.8C571.7 580.1 572.3 580.4 573.0 580.7C573.7 581.0 574.3 581.3 575.0 581.5C575.7 581.8 576.3 582.1 577.0 582.4C577.7 582.7 578.3 583.0 579.0 583.3C579.7 583.6 580.3 584.0 581.0 584.3C581.7 584.6 582.3 585.0 583.0 585.3C583.7 585.7 584.3 586.0 585.0 586.4C585.7 586.7 586.3 587.1 587.0 587.4C587.7 587.7 588.3 588.1 589.0 588.3C589.7 588.6 590.3 588.9 591.0 589.2C591.7 589.5 592.3 589.7 593.0 590.0C593.7 590.2 594.3 590.5 595.0 590.7C595.7 590.9 596.3 591.2 597.0 591.4C597.7 591.6 598.3 591.8 599.0 592.0C599.7 592.1 600.3 592.3 601.0 592.4C601.7 592.6 602.3 592.7 603.0 592.9C603.7 593.0 604.3 593.1 605.0 593.2C605.7 593.4 606.3 593.5 607.0 593.6C607.7 593.7 608.3 593.9 609.0 594.0C609.7 594.1 610.3 594.3 611.0 594.4C611.7 594.5 612.3 594.7 613.0 594.8C613.7 594.9 614.3 595.1 615.0 595.2C615.7 595.3 616.3 595.5 617.0 595.6C617.7 595.7 618.3 595.9 619.0 596.0C619.7 596.1 620.3 596.2 621.0 596.4C621.7 596.5 622.3 596.6 623.0 596.7C623.7 596.8 624.3 596.9 625.0 597.1C625.7 597.2 626.3 597.3 627.0 597.4C627.7 597.5 628.3 597.6 629.0 597.7C629.7 597.9 630.3 598.0 631.0 598.1C631.7 598.2 632.3 598.3 633.0 598.4C633.7 598.6 634.3 598.7 635.0 598.8C635.7 598.9 636.3 599.0 637.0 599.1C637.7 599.2 638.3 599.3 639.0 599.3C639.7 599.4 640.3 599.5 641.0 599.5C641.7 599.6 642.3 599.6 643.0 599.7C643.7 599.7 644.3 599.8 645.0 599.8C645.7 599.8 646.3 599.9 647.0 599.9C647.7 599.9 648.3 600.0 649.0 600.0C649.7 600.0 650.3 600.1 651.0 600.1C651.7 600.1 652.3 600.1 653.0 600.2C653.7 600.2 654.3 600.2 655.0 600.2C655.7 600.3 656.3 600.3 657.0 600.3C657.7 600.3 658.3 600.3 659.0 600.4C659.7 600.4 660.3 600.4 661.0 600.4C661.7 600.4 662.3 600.4 663.0 600.5C663.7 600.6 664.3 601.0 665.0 601.1C665.7 601.2 666.3 601.1 667.0 601.1C667.7 601.1 668.3 601.1 669.0 601.1C669.7 601.1 670.3 601.1 671.0 601.1C671.7 601.1 672.3 601.1 673.0 601.1C673.7 601.1 674.3 601.1 675.0 601.1C675.7 601.1 676.3 601.1 677.0 601.1C677.7 601.1 678.3 601.1 679.0 601.1C679.7 601.1 680.3 601.1 681.0 601.1C681.7 601.1 682.3 601.1 683.0 601.1C683.7 601.1 684.3 601.1 685.0 601.1C685.7 601.1 686.3 601.1 687.0 601.1C687.7 601.1 688.3 601.1 689.0 601.1C689.7 601.2 690.3 601.2 691.0 601.2C691.7 601.2 692.3 601.2 693.0 601.2C693.7 601.2 694.3 601.2 695.0 601.2C695.7 601.2 696.3 601.2 697.0 601.2C697.7 601.2 698.3 601.2 699.0 601.2C699.7 601.2 700.3 601.2 701.0 601.2C701.7 601.2 702.3 601.2 703.0 601.2C703.7 601.2 704.3 601.2 705.0 601.2C705.7 601.2 706.3 601.2 707.0 601.2C707.7 601.2 708.3 601.2 709.0 601.2C709.7 601.2 710.3 601.2 711.0 601.2C711.7 601.2 712.3 601.2 713.0 601.2C713.7 601.2 714.3 601.2 715.0 601.2C715.7 601.2 716.3 601.2 717.0 601.2C717.7 601.2 718.3 601.2 719.0 601.2C719.7 601.2 720.3 601.2 721.0 601.2C721.7 601.2 722.3 601.2 723.0 601.2C723.7 601.2 724.3 601.2 725.0 601.2C725.7 601.2 726.3 601.2 727.0 601.2C727.7 601.2 728.3 601.2 729.0 601.2C729.7 601.2 730.3 601.2 731.0 601.2C731.7 601.2 732.3 601.2 733.0 601.2C733.7 601.2 734.3 601.2 735.0 601.2C735.7 601.2 736.3 601.2 737.0 601.2C737.7 601.2 738.3 601.2 739.0 601.2C739.7 601.2 740.3 601.2 741.0 601.2C741.7 601.2 742.3 601.2 743.0 601.2C743.7 601.2 744.3 601.2 745.0 601.2C745.7 601.2 746.3 601.2 747.0 601.2C747.7 601.2 748.3 601.2 749.0 601.2C749.7 601.2 750.3 601.2 751.0 601.2C751.7 601.2 752.3 601.2 753.0 601.2C753.7 601.2 754.3 601.2 755.0 601.2C755.7 601.2 756.3 601.2 757.0 601.2C757.7 601.2 758.3 601.2 759.0 601.2C759.7 601.2 760.3 601.2 761.0 601.2C761.7 601.2 762.3 601.2 763.0 601.2C763.7 601.2 764.3 601.2 765.0 601.2C765.7 601.2 766.6 601.2 767.0 601.2C767.4 601.2 767.4 601.2 767.5 601.2" stroke="#000" stroke-width="1.45"/>
<path d="M95.3 601.45H793.4" stroke="#b4b4b4" stroke-width="0.9"/>
<path d="M95.3 601.1C95.8 601.1 97.3 601.1 98.3 601.1C99.3 601.1 100.3 601.1 101.3 601.1C102.3 601.1 103.3 601.1 104.3 601.1C105.3 601.1 106.3 601.1 107.3 601.1C108.3 601.1 109.3 601.1 110.3 601.1C111.3 601.1 112.3 601.1 113.3 601.1C114.3 601.1 115.3 601.1 116.3 601.0C117.3 601.0 118.3 601.0 119.3 601.0C120.3 601.0 121.3 601.0 122.3 601.0C123.3 601.0 124.3 601.0 125.3 600.9C126.3 600.9 127.3 600.9 128.3 600.9C129.3 600.9 130.3 600.8 131.3 600.8C132.3 600.8 133.3 600.8 134.3 600.8C135.3 600.7 136.3 600.7 137.3 600.7C138.3 600.6 139.3 600.6 140.3 600.6C141.3 600.6 142.3 600.5 143.3 600.5C144.3 600.4 145.3 600.4 146.3 600.4C147.3 600.3 148.3 600.3 149.3 600.2C150.3 600.2 151.3 600.1 152.3 600.1C153.3 600.0 154.3 600.0 155.3 599.9C156.3 599.8 157.3 599.8 158.3 599.7C159.3 599.6 160.3 599.5 161.3 599.4C162.3 599.3 163.3 599.2 164.3 599.1C165.3 599.0 166.3 598.9 167.3 598.8C168.3 598.7 169.3 598.6 170.3 598.4C171.3 598.3 172.3 598.2 173.3 598.1C174.3 598.0 175.3 597.8 176.3 597.7C177.3 597.6 178.3 597.5 179.3 597.4C180.3 597.2 181.3 597.1 182.3 597.0C183.3 596.9 184.3 596.8 185.3 596.7C186.3 596.6 187.3 596.5 188.3 596.4C189.3 596.3 190.3 596.2 191.3 596.1C192.3 596.0 193.3 595.9 194.3 595.8C195.3 595.7 196.3 595.5 197.3 595.4C198.3 595.2 199.3 595.1 200.3 594.9C201.3 594.7 202.3 594.5 203.3 594.3C204.3 594.1 205.3 593.9 206.3 593.6C207.3 593.3 208.3 593.1 209.3 592.7C210.3 592.4 211.3 592.1 212.3 591.8C213.3 591.4 214.3 591.1 215.3 590.7C216.3 590.3 217.3 589.9 218.3 589.5C219.3 589.1 220.3 588.7 221.3 588.3C222.3 587.9 223.3 587.4 224.3 587.0C225.3 586.6 226.3 586.2 227.3 585.7C228.3 585.3 229.3 584.8 230.3 584.4C231.3 584.0 232.3 583.5 233.3 583.1C234.3 582.6 235.3 582.2 236.3 581.7C237.3 581.3 238.3 580.8 239.3 580.4C240.3 579.9 241.3 579.4 242.3 578.9C243.3 578.4 244.3 577.9 245.3 577.4C246.3 576.9 247.3 576.4 248.3 575.8C249.3 575.3 250.3 574.7 251.3 574.1C252.3 573.5 253.3 572.9 254.3 572.2C255.3 571.6 256.3 570.9 257.3 570.3C258.3 569.6 259.3 568.9 260.3 568.3C261.3 567.6 262.3 566.9 263.3 566.3C264.3 565.6 265.3 564.9 266.3 564.2C267.3 563.5 268.3 562.8 269.3 562.1C270.3 561.3 271.3 560.6 272.3 559.8C273.3 558.9 274.3 558.1 275.3 557.2C276.3 556.4 277.3 555.5 278.3 554.5C279.3 553.6 280.3 552.6 281.3 551.7C282.3 550.7 283.3 549.7 284.3 548.7C285.3 547.6 286.3 546.6 287.3 545.5C288.3 544.5 289.3 543.4 290.3 542.3C291.3 541.3 292.3 540.2 293.3 539.1C294.3 538.0 295.3 537.0 296.3 535.9C297.3 534.9 298.3 533.9 299.3 532.9C300.3 531.8 301.3 530.9 302.3 529.9C303.3 528.9 304.3 528.0 305.3 527.0C306.3 526.0 307.3 525.0 308.3 524.0C309.3 523.0 310.3 521.9 311.3 520.8C312.3 519.7 313.3 518.6 314.3 517.4C315.3 516.3 316.3 515.1 317.3 513.8C318.3 512.6 319.3 511.3 320.3 509.9C321.3 508.6 322.3 507.2 323.3 505.8C324.3 504.4 325.3 503.0 326.3 501.5C327.3 500.1 328.3 498.6 329.3 497.1C330.3 495.7 331.3 494.2 332.3 492.7C333.3 491.2 334.3 489.7 335.3 488.3C336.3 486.8 337.3 485.4 338.3 483.9C339.3 482.5 340.3 481.1 341.3 479.7C342.3 478.3 343.3 476.9 344.3 475.5C345.3 474.2 346.3 472.8 347.3 471.5C348.3 470.1 349.3 468.8 350.3 467.5C351.3 466.3 352.3 465.0 353.3 463.7C354.3 462.5 355.3 461.3 356.3 460.0C357.3 458.8 358.3 457.6 359.3 456.4C360.3 455.3 361.3 454.1 362.3 452.9C363.3 451.7 364.3 450.6 365.3 449.4C366.3 448.3 367.3 447.1 368.3 446.0C369.3 444.9 370.3 443.8 371.3 442.7C372.3 441.6 373.3 440.4 374.3 439.4C375.3 438.3 376.3 437.2 377.3 436.2C378.3 435.2 379.3 434.2 380.3 433.3C381.3 432.3 382.3 431.4 383.3 430.6C384.3 429.7 385.3 428.9 386.3 428.2C387.3 427.5 388.3 426.8 389.3 426.2C390.3 425.7 391.3 425.2 392.3 424.8C393.3 424.3 394.3 424.0 395.3 423.8C396.3 423.5 397.3 423.3 398.3 423.2C399.3 423.1 400.3 423.0 401.3 423.0C402.3 423.0 403.3 423.1 404.3 423.1C405.3 423.2 406.3 423.2 407.3 423.3C408.3 423.4 409.3 423.5 410.3 423.6C411.3 423.7 412.3 423.8 413.3 424.0C414.3 424.1 415.3 424.3 416.3 424.4C417.3 424.6 418.3 424.8 419.3 425.0C420.3 425.2 421.3 425.4 422.3 425.7C423.3 425.9 424.3 426.2 425.3 426.5C426.3 426.8 427.3 427.1 428.3 427.5C429.3 427.9 430.3 428.4 431.3 428.9C432.3 429.4 433.3 429.9 434.3 430.5C435.3 431.1 436.3 431.8 437.3 432.5C438.3 433.2 439.3 434.0 440.3 434.8C441.3 435.6 442.3 436.4 443.3 437.3C444.3 438.2 445.3 439.1 446.3 440.0C447.3 440.9 448.3 441.9 449.3 442.9C450.3 443.9 451.3 444.9 452.3 445.9C453.3 447.0 454.3 448.1 455.3 449.2C456.3 450.3 457.3 451.5 458.3 452.7C459.3 453.9 460.3 455.2 461.3 456.4C462.3 457.7 463.3 459.0 464.3 460.3C465.3 461.7 466.3 463.1 467.3 464.4C468.3 465.8 469.3 467.3 470.3 468.7C471.3 470.2 472.3 471.6 473.3 473.1C474.3 474.6 475.3 476.1 476.3 477.6C477.3 479.1 478.3 480.7 479.3 482.2C480.3 483.7 481.3 485.2 482.3 486.7C483.3 488.2 484.3 489.8 485.3 491.3C486.3 492.7 487.3 494.2 488.3 495.7C489.3 497.1 490.3 498.6 491.3 500.0C492.3 501.4 493.3 502.8 494.3 504.2C495.3 505.6 496.3 507.0 497.3 508.4C498.3 509.8 499.3 511.2 500.3 512.6C501.3 513.9 502.3 515.3 503.3 516.7C504.3 518.0 505.3 519.4 506.3 520.8C507.3 522.2 508.3 523.6 509.3 525.0C510.3 526.4 511.3 527.8 512.3 529.2C513.3 530.6 514.3 532.0 515.3 533.4C516.3 534.8 517.3 536.2 518.3 537.6C519.3 539.0 520.3 540.3 521.3 541.7C522.3 543.0 523.3 544.3 524.3 545.6C525.3 546.9 526.3 548.1 527.3 549.3C528.3 550.5 529.3 551.7 530.3 552.8C531.3 554.0 532.3 555.0 533.3 556.1C534.3 557.2 535.3 558.2 536.3 559.2C537.3 560.2 538.3 561.2 539.3 562.1C540.3 563.0 541.3 564.0 542.3 564.9C543.3 565.8 544.3 566.6 545.3 567.5C546.3 568.4 547.3 569.2 548.3 570.1C549.3 570.9 550.3 571.8 551.3 572.6C552.3 573.4 553.3 574.3 554.3 575.1C555.3 575.9 556.3 576.7 557.3 577.5C558.3 578.3 559.3 579.0 560.3 579.8C561.3 580.5 562.3 581.3 563.3 582.0C564.3 582.7 565.3 583.4 566.3 584.0C567.3 584.7 568.3 585.3 569.3 585.9C570.3 586.5 571.3 587.1 572.3 587.6C573.3 588.2 574.3 588.7 575.3 589.2C576.3 589.7 577.3 590.2 578.3 590.6C579.3 591.1 580.3 591.5 581.3 591.9C582.3 592.3 583.3 592.7 584.3 593.1C585.3 593.4 586.3 593.8 587.3 594.1C588.3 594.4 589.3 594.7 590.3 594.9C591.3 595.2 592.3 595.5 593.3 595.7C594.3 596.0 595.3 596.2 596.3 596.4C597.3 596.6 598.3 596.8 599.3 597.0C600.3 597.2 601.3 597.4 602.3 597.6C603.3 597.7 604.3 597.9 605.3 598.0C606.3 598.2 607.3 598.3 608.3 598.5C609.3 598.6 610.3 598.7 611.3 598.9C612.3 599.0 613.3 599.1 614.3 599.2C615.3 599.3 616.3 599.4 617.3 599.5C618.3 599.6 619.3 599.7 620.3 599.8C621.3 599.9 622.3 599.9 623.3 600.0C624.3 600.1 625.3 600.2 626.3 600.2C627.3 600.3 628.3 600.3 629.3 600.4C630.3 600.5 631.3 600.5 632.3 600.6C633.3 600.6 634.3 600.7 635.3 600.7C636.3 600.8 637.3 600.8 638.3 600.8C639.3 600.9 640.3 600.9 641.3 600.9C642.3 600.9 643.3 601.0 644.3 601.0C645.3 601.0 646.3 601.0 647.3 601.0C648.3 601.1 649.3 601.1 650.3 601.1C651.3 601.1 652.3 601.1 653.3 601.1C654.3 601.1 655.3 601.1 656.3 601.1C657.3 601.1 658.3 601.1 659.3 601.1C660.3 601.1 661.3 601.1 662.3 601.1C663.3 601.1 664.3 601.1 665.3 601.1C666.3 601.1 667.3 601.1 668.3 601.1C669.3 601.1 670.3 601.1 671.3 601.1C672.3 601.1 673.3 601.1 674.3 601.1C675.3 601.1 676.3 601.1 677.3 601.1C678.3 601.1 679.3 601.1 680.3 601.1C681.3 601.1 682.3 601.1 683.3 601.1C684.3 601.1 685.3 601.1 686.3 601.1C687.3 601.1 688.3 601.1 689.3 601.2C690.3 601.2 691.3 601.2 692.3 601.2C693.3 601.2 694.3 601.2 695.3 601.2C696.3 601.2 697.3 601.2 698.3 601.2C699.3 601.2 700.3 601.2 701.3 601.2C702.3 601.2 703.3 601.2 704.3 601.2C705.3 601.2 706.3 601.2 707.3 601.2C708.3 601.2 709.3 601.2 710.3 601.2C711.3 601.2 712.3 601.2 713.3 601.2C714.3 601.2 715.3 601.2 716.3 601.2C717.3 601.2 718.3 601.2 719.3 601.2C720.3 601.2 721.3 601.2 722.3 601.2C723.3 601.2 724.3 601.2 725.3 601.2C726.3 601.2 727.3 601.2 728.3 601.2C729.3 601.2 730.3 601.2 731.3 601.2C732.3 601.2 733.3 601.2 734.3 601.2C735.3 601.2 736.3 601.2 737.3 601.2C738.3 601.2 739.3 601.2 740.3 601.2C741.3 601.2 742.3 601.2 743.3 601.2C744.3 601.2 745.3 601.2 746.3 601.2C747.3 601.2 748.3 601.2 749.3 601.2C750.3 601.2 751.3 601.2 752.3 601.2C753.3 601.2 754.3 601.2 755.3 601.2C756.3 601.2 757.3 601.2 758.3 601.2C759.3 601.2 760.3 601.2 761.3 601.2C762.3 601.2 763.3 601.2 764.3 601.2C765.3 601.2 766.8 601.2 767.3 601.2C767.8 601.2 767.5 601.2 767.5 601.2" stroke="#b9b9b9" stroke-width="1.45"/>
<rect x="95.3" y="411.4" width="698.1" height="196.9" stroke="#000" stroke-width="1.35"/>
<path d="M142.0 608.3v10.2M252.3 608.3v10.2M362.5 608.3v10.2M472.8 608.3v10.2M583.0 608.3v10.2M693.3 608.3v10.2M95.3 601.1h-10.2M95.3 569.9h-10.2M95.3 538.7h-10.2M95.3 507.6h-10.2M95.3 476.4h-10.2M95.3 445.2h-10.2M95.3 414.0h-10.2" stroke="#000" stroke-width="1.35"/>
</g>
<text class="a" x="142.9" y="648.9" text-anchor="middle">0.1</text>
<text class="a" x="253.2" y="648.9" text-anchor="middle">0.2</text>
<text class="a" x="363.4" y="648.9" text-anchor="middle">0.3</text>
<text class="a" x="473.7" y="648.9" text-anchor="middle">0.4</text>
<text class="a" x="583.9" y="648.9" text-anchor="middle">0.5</text>
<text class="a" x="694.2" y="648.9" text-anchor="middle">0.6</text>
<text class="a" transform="translate(73.0 600.4) rotate(-90)" text-anchor="middle">0</text>
<text class="a" transform="translate(73.0 569.2) rotate(-90)" text-anchor="middle">1</text>
<text class="a" transform="translate(73.0 538.0) rotate(-90)" text-anchor="middle">2</text>
<text class="a" transform="translate(73.0 506.9) rotate(-90)" text-anchor="middle">3</text>
<text class="a" transform="translate(73.0 475.7) rotate(-90)" text-anchor="middle">4</text>
<text class="a" transform="translate(73.0 444.5) rotate(-90)" text-anchor="middle">5</text>
<text class="a" transform="translate(73.0 413.3) rotate(-90)" text-anchor="middle">6</text>
<text class="b" transform="translate(24.8 545.1) rotate(-90)">Density</text>
<text class="b" x="231.3" y="694.6" xml:space="preserve">N = 100000   Bandwidth = 0.006096</text>
<text class="t" x="286.0" y="393.1" xml:space="preserve">Posterior density of q<tspan class="s" dy="-14.2">MZ</tspan></text>
<g fill="none" stroke-linecap="butt" stroke-linejoin="round">
<path d="M120.8 971.2C121.1 971.2 122.1 971.2 122.8 971.2C123.4 971.2 124.1 971.2 124.8 971.1C125.4 971.1 126.1 971.1 126.8 971.1C127.4 971.1 128.1 971.1 128.8 971.1C129.4 971.1 130.1 971.1 130.8 971.1C131.4 971.1 132.1 971.0 132.8 971.0C133.4 971.0 134.1 971.0 134.8 970.9C135.4 970.9 136.1 970.8 136.8 970.8C137.4 970.7 138.1 970.7 138.8 970.6C139.4 970.5 140.1 970.5 140.8 970.4C141.4 970.3 142.1 970.2 142.8 970.1C143.4 970.0 144.1 969.8 144.8 969.7C145.4 969.6 146.1 969.4 146.8 969.3C147.4 969.1 148.1 968.9 148.8 968.7C149.4 968.5 150.1 968.3 150.8 968.1C151.4 967.8 152.1 967.6 152.8 967.3C153.4 967.1 154.1 966.8 154.8 966.5C155.4 966.3 156.1 966.0 156.8 965.7C157.4 965.4 158.1 965.1 158.8 964.8C159.4 964.4 160.1 964.1 160.8 963.7C161.4 963.3 162.1 962.9 162.8 962.5C163.4 962.1 164.1 961.6 164.8 961.1C165.4 960.6 166.1 960.1 166.8 959.5C167.4 959.0 168.1 958.4 168.8 957.8C169.4 957.2 170.1 956.5 170.8 955.9C171.4 955.2 172.1 954.5 172.8 953.8C173.4 953.0 174.1 952.3 174.8 951.4C175.4 950.6 176.1 949.8 176.8 948.9C177.4 948.0 178.1 947.1 178.8 946.1C179.4 945.1 180.1 944.1 180.8 943.1C181.4 942.0 182.1 940.9 182.8 939.8C183.4 938.7 184.1 937.6 184.8 936.5C185.4 935.3 186.1 934.1 186.8 932.9C187.4 931.7 188.1 930.4 188.8 929.2C189.4 928.0 190.1 926.7 190.8 925.5C191.4 924.2 192.1 923.0 192.8 921.7C193.4 920.5 194.1 919.2 194.8 917.9C195.4 916.7 196.1 915.4 196.8 914.1C197.4 912.7 198.1 911.4 198.8 910.1C199.4 908.7 200.1 907.3 200.8 905.8C201.4 904.3 202.1 902.8 202.8 901.2C203.4 899.7 204.1 898.0 204.8 896.4C205.4 894.8 206.1 893.2 206.8 891.7C207.4 890.2 208.1 888.8 208.8 887.4C209.4 886.0 210.1 884.7 210.8 883.4C211.4 882.1 212.1 880.9 212.8 879.7C213.4 878.4 214.1 877.2 214.8 875.9C215.4 874.7 216.1 873.4 216.8 872.1C217.4 870.7 218.1 869.3 218.8 868.0C219.4 866.6 220.1 865.3 220.8 864.0C221.4 862.7 222.1 861.6 222.8 860.5C223.4 859.4 224.1 858.4 224.8 857.4C225.4 856.5 226.1 855.6 226.8 854.7C227.4 853.8 228.1 853.0 228.8 852.1C229.4 851.3 230.1 850.5 230.8 849.7C231.4 848.8 232.1 848.0 232.8 847.1C233.4 846.2 234.1 845.3 234.8 844.3C235.4 843.4 236.1 842.5 236.8 841.5C237.4 840.5 238.1 839.5 238.8 838.5C239.4 837.6 240.1 836.5 240.8 835.5C241.4 834.5 242.1 833.5 242.8 832.4C243.4 831.4 244.1 830.3 244.8 829.2C245.4 828.1 246.1 826.8 246.8 825.6C247.4 824.3 248.1 822.9 248.8 821.6C249.4 820.3 250.1 819.0 250.8 817.8C251.4 816.6 252.1 815.5 252.8 814.3C253.4 813.2 254.1 812.1 254.8 811.1C255.4 810.0 256.1 809.0 256.8 808.1C257.4 807.1 258.1 806.2 258.8 805.4C259.4 804.6 260.1 803.8 260.8 803.1C261.4 802.4 262.1 801.8 262.8 801.2C263.4 800.6 264.1 800.0 264.8 799.5C265.4 798.9 266.1 798.4 266.8 797.9C267.4 797.4 268.1 796.9 268.8 796.5C269.4 796.0 270.1 795.5 270.8 795.1C271.4 794.6 272.1 794.2 272.8 793.8C273.4 793.3 274.1 792.9 274.8 792.4C275.4 792.0 276.1 791.6 276.8 791.3C277.4 790.9 278.1 790.6 278.8 790.3C279.4 790.0 280.1 789.7 280.8 789.4C281.4 789.2 282.1 789.0 282.8 788.9C283.4 788.7 284.1 788.6 284.8 788.6C285.4 788.5 286.1 788.6 286.8 788.6C287.4 788.6 288.1 788.6 288.8 788.6C289.4 788.6 290.1 788.5 290.8 788.6C291.4 788.7 292.1 788.8 292.8 789.0C293.4 789.1 294.1 789.4 294.8 789.6C295.4 789.9 296.1 790.1 296.8 790.4C297.4 790.7 298.1 790.9 298.8 791.2C299.4 791.4 300.1 791.7 300.8 792.0C301.4 792.3 302.1 792.5 302.8 792.8C303.4 793.1 304.1 793.4 304.8 793.6C305.4 793.9 306.1 794.2 306.8 794.4C307.4 794.7 308.1 795.0 308.8 795.2C309.4 795.5 310.1 795.7 310.8 796.0C311.4 796.2 312.1 796.5 312.8 796.7C313.4 796.9 314.1 797.2 314.8 797.4C315.4 797.6 316.1 797.8 316.8 798.0C317.4 798.3 318.1 798.5 318.8 798.7C319.4 798.9 320.1 799.1 320.8 799.4C321.4 799.7 322.1 800.0 322.8 800.3C323.4 800.7 324.1 801.1 324.8 801.5C325.4 801.9 326.1 802.3 326.8 802.8C327.4 803.3 328.1 803.8 328.8 804.3C329.4 804.8 330.1 805.4 330.8 805.9C331.4 806.4 332.1 807.0 332.8 807.5C333.4 808.1 334.1 808.6 334.8 809.0C335.4 809.5 336.1 810.0 336.8 810.4C337.4 810.9 338.1 811.3 338.8 811.8C339.4 812.3 340.1 812.8 340.8 813.3C341.4 813.7 342.1 814.2 342.8 814.8C343.4 815.3 344.1 815.8 344.8 816.4C345.4 817.0 346.1 817.6 346.8 818.4C347.4 819.1 348.1 819.9 348.8 820.7C349.4 821.5 350.1 822.4 350.8 823.2C351.4 824.1 352.1 824.9 352.8 825.6C353.4 826.4 354.1 827.1 354.8 827.8C355.4 828.5 356.1 829.2 356.8 829.9C357.4 830.6 358.1 831.3 358.8 832.1C359.4 832.8 360.1 833.5 360.8 834.2C361.4 834.9 362.1 835.6 362.8 836.3C363.4 837.1 364.1 837.8 364.8 838.5C365.4 839.2 366.1 839.9 366.8 840.6C367.4 841.3 368.1 842.1 368.8 842.8C369.4 843.6 370.1 844.3 370.8 845.1C371.4 845.9 372.1 846.6 372.8 847.5C373.4 848.3 374.1 849.2 374.8 850.0C375.4 850.9 376.1 851.9 376.8 852.8C377.4 853.7 378.1 854.6 378.8 855.5C379.4 856.4 380.1 857.2 380.8 858.0C381.4 858.9 382.1 859.7 382.8 860.4C383.4 861.2 384.1 862.0 384.8 862.7C385.4 863.5 386.1 864.3 386.8 865.0C387.4 865.8 388.1 866.6 388.8 867.4C389.4 868.2 390.1 869.0 390.8 869.8C391.4 870.5 392.1 871.3 392.8 872.1C393.4 872.9 394.1 873.6 394.8 874.4C395.4 875.1 396.1 875.8 396.8 876.5C397.4 877.2 398.1 877.9 398.8 878.5C399.4 879.2 400.1 879.9 400.8 880.5C401.4 881.1 402.1 881.7 402.8 882.3C403.4 882.9 404.1 883.4 404.8 883.9C405.4 884.5 406.1 884.9 406.8 885.5C407.4 886.0 408.1 886.5 408.8 887.2C409.4 887.8 410.1 888.5 410.8 889.3C411.4 890.1 412.1 891.0 412.8 891.9C413.4 892.8 414.1 893.7 414.8 894.6C415.4 895.5 416.1 896.3 416.8 897.1C417.4 897.8 418.1 898.5 418.8 899.1C419.4 899.8 420.1 900.4 420.8 901.0C421.4 901.6 422.1 902.2 422.8 902.7C423.4 903.2 424.1 903.8 424.8 904.3C425.4 904.7 426.1 905.2 426.8 905.7C427.4 906.1 428.1 906.5 428.8 907.0C429.4 907.4 430.1 907.8 430.8 908.2C431.4 908.7 432.1 909.1 432.8 909.6C433.4 910.0 434.1 910.4 434.8 910.9C435.4 911.3 436.1 911.8 436.8 912.2C437.4 912.7 438.1 913.1 438.8 913.6C439.4 914.0 440.1 914.4 440.8 914.8C441.4 915.3 442.1 915.7 442.8 916.1C443.4 916.6 444.1 917.0 444.8 917.4C445.4 917.9 446.1 918.4 446.8 919.0C447.4 919.5 448.1 920.1 448.8 920.7C449.4 921.3 450.1 922.0 450.8 922.7C451.4 923.3 452.1 924.0 452.8 924.6C453.4 925.3 454.1 925.9 454.8 926.5C455.4 927.1 456.1 927.7 456.8 928.3C457.4 928.9 458.1 929.4 458.8 929.9C459.4 930.4 460.1 930.8 460.8 931.2C461.4 931.6 462.1 932.0 462.8 932.4C463.4 932.8 464.1 933.1 464.8 933.5C465.4 933.9 466.1 934.3 466.8 934.8C467.4 935.2 468.1 935.7 468.8 936.2C469.4 936.7 470.1 937.2 470.8 937.7C471.4 938.2 472.1 938.7 472.8 939.2C473.4 939.7 474.1 940.1 474.8 940.6C475.4 941.0 476.1 941.4 476.8 941.9C477.4 942.3 478.1 942.7 478.8 943.1C479.4 943.4 480.1 943.8 480.8 944.2C481.4 944.5 482.1 944.8 482.8 945.1C483.4 945.5 484.1 945.8 484.8 946.0C485.4 946.3 486.1 946.6 486.8 946.9C487.4 947.1 488.1 947.4 488.8 947.7C489.4 947.9 490.1 948.2 490.8 948.4C491.4 948.7 492.1 948.9 492.8 949.1C493.4 949.4 494.1 949.6 494.8 949.8C495.4 950.0 496.1 950.3 496.8 950.5C497.4 950.7 498.1 950.9 498.8 951.2C499.4 951.4 500.1 951.6 500.8 951.8C501.4 952.0 502.1 952.3 502.8 952.5C503.4 952.7 504.1 952.9 504.8 953.1C505.4 953.3 506.1 953.6 506.8 953.8C507.4 954.0 508.1 954.2 508.8 954.4C509.4 954.6 510.1 954.8 510.8 955.0C511.4 955.2 512.1 955.5 512.8 955.7C513.4 955.9 514.1 956.1 514.8 956.3C515.4 956.5 516.1 956.7 516.8 956.8C517.4 957.0 518.1 957.2 518.8 957.3C519.4 957.5 520.1 957.7 520.8 957.8C521.4 957.9 522.1 958.1 522.8 958.2C523.4 958.4 524.1 958.5 524.8 958.6C525.4 958.7 526.1 958.9 526.8 959.0C527.4 959.1 528.1 959.2 528.8 959.3C529.4 959.4 530.1 959.5 530.8 959.6C531.4 959.7 532.1 959.7 532.8 959.8C533.4 959.9 534.1 960.0 534.8 960.1C535.4 960.1 536.1 960.2 536.8 960.3C537.4 960.3 538.1 960.4 538.8 960.5C539.4 960.5 540.1 960.6 540.8 960.6C541.4 960.7 542.1 960.7 542.8 960.7C543.4 960.8 544.1 960.8 544.8 960.9C545.4 960.9 546.1 961.0 546.8 961.0C547.4 961.1 548.1 961.2 548.8 961.3C549.4 961.3 550.1 961.4 550.8 961.5C551.4 961.7 552.1 961.8 552.8 961.9C553.4 962.0 554.1 962.2 554.8 962.3C555.4 962.4 556.1 962.6 556.8 962.7C557.4 962.8 558.1 963.0 558.8 963.1C559.4 963.3 560.1 963.5 560.8 963.7C561.4 963.8 562.1 964.0 562.8 964.2C563.4 964.4 564.1 964.6 564.8 964.7C565.4 964.9 566.1 965.0 566.8 965.2C567.4 965.3 568.1 965.5 568.8 965.6C569.4 965.7 570.1 965.9 570.8 966.0C571.4 966.1 572.1 966.2 572.8 966.4C573.4 966.5 574.1 966.6 574.8 966.7C575.4 966.8 576.1 966.9 576.8 967.0C577.4 967.1 578.1 967.1 578.8 967.2C579.4 967.3 580.1 967.4 580.8 967.5C581.4 967.5 582.1 967.6 582.8 967.7C583.4 967.7 584.1 967.8 584.8 967.8C585.4 967.9 586.1 967.9 586.8 968.0C587.4 968.0 588.1 968.0 588.8 968.1C589.4 968.1 590.1 968.1 590.8 968.2C591.4 968.2 592.1 968.2 592.8 968.3C593.4 968.3 594.1 968.3 594.8 968.3C595.4 968.3 596.1 968.4 596.8 968.4C597.4 968.4 598.1 968.4 598.8 968.5C599.4 968.5 600.1 968.5 600.8 968.5C601.4 968.6 602.1 968.6 602.8 968.6C603.4 968.6 604.1 968.7 604.8 968.7C605.4 968.7 606.1 968.7 606.8 968.8C607.4 968.8 608.1 968.8 608.8 968.8C609.4 968.9 610.1 968.9 610.8 968.9C611.4 968.9 612.1 968.9 612.8 968.9C613.4 969.0 614.1 969.0 614.8 969.0C615.4 968.9 616.1 968.9 616.8 968.9C617.4 968.9 618.1 968.9 618.8 968.8C619.4 968.8 620.1 968.8 620.8 968.8C621.4 968.8 622.1 968.8 622.8 968.8C623.4 968.9 624.1 968.9 624.8 969.0C625.4 969.0 626.1 969.1 626.8 969.1C627.4 969.2 628.1 969.2 628.8 969.3C629.4 969.4 630.1 969.4 630.8 969.5C631.4 969.5 632.1 969.6 632.8 969.7C633.4 969.7 634.1 969.8 634.8 969.8C635.4 969.8 636.1 969.9 636.8 969.9C637.4 969.9 638.1 970.0 638.8 970.0C639.4 970.0 640.1 970.0 640.8 970.0C641.4 970.1 642.1 970.1 642.8 970.1C643.4 970.1 644.1 970.1 644.8 970.2C645.4 970.2 646.1 970.2 646.8 970.2C647.4 970.2 648.1 970.2 648.8 970.2C649.4 970.3 650.1 970.3 650.8 970.3C651.4 970.3 652.1 970.3 652.8 970.3C653.4 970.3 654.1 970.4 654.8 970.4C655.4 970.4 656.1 970.4 656.8 970.4C657.4 970.4 658.1 970.4 658.8 970.5C659.4 970.5 660.1 970.5 660.8 970.5C661.4 970.5 662.1 970.5 662.8 970.5C663.4 970.6 664.1 970.6 664.8 970.6C665.4 970.6 666.1 970.6 666.8 970.6C667.4 970.6 668.1 970.6 668.8 970.7C669.4 970.8 670.1 971.2 670.8 971.3C671.4 971.4 672.1 971.3 672.8 971.3C673.4 971.3 674.1 971.3 674.8 971.3C675.4 971.3 676.1 971.3 676.8 971.3C677.4 971.3 678.1 971.3 678.8 971.3C679.4 971.3 680.1 971.3 680.8 971.3C681.4 971.3 682.1 971.3 682.8 971.3C683.4 971.3 684.1 971.3 684.8 971.3C685.4 971.3 686.1 971.3 686.8 971.3C687.4 971.3 688.1 971.3 688.8 971.3C689.4 971.3 690.1 971.3 690.8 971.3C691.4 971.3 692.1 971.3 692.8 971.3C693.4 971.3 694.1 971.3 694.8 971.3C695.4 971.3 696.1 971.3 696.8 971.3C697.4 971.3 698.1 971.3 698.8 971.3C699.4 971.3 700.1 971.3 700.8 971.3C701.4 971.3 702.1 971.3 702.8 971.3C703.4 971.3 704.1 971.3 704.8 971.3C705.4 971.3 706.1 971.3 706.8 971.3C707.4 971.3 708.1 971.3 708.8 971.3C709.4 971.3 710.1 971.3 710.8 971.3C711.4 971.3 712.1 971.3 712.8 971.3C713.4 971.3 714.1 971.3 714.8 971.3C715.4 971.3 716.1 971.3 716.8 971.3C717.4 971.3 718.1 971.3 718.8 971.3C719.4 971.3 720.1 971.3 720.8 971.3C721.4 971.3 722.1 971.3 722.8 971.3C723.4 971.3 724.1 971.3 724.8 971.3C725.4 971.3 726.1 971.3 726.8 971.3C727.4 971.3 728.1 971.3 728.8 971.3C729.4 971.3 730.1 971.3 730.8 971.3C731.4 971.3 732.1 971.3 732.8 971.3C733.4 971.3 734.1 971.3 734.8 971.3C735.4 971.3 736.1 971.3 736.8 971.3C737.4 971.3 738.1 971.3 738.8 971.3C739.4 971.3 740.1 971.3 740.8 971.3C741.4 971.3 742.1 971.3 742.8 971.3C743.4 971.3 744.1 971.3 744.8 971.3C745.4 971.3 746.1 971.3 746.8 971.3C747.4 971.3 748.1 971.3 748.8 971.3C749.4 971.3 750.1 971.3 750.8 971.3C751.4 971.3 752.1 971.3 752.8 971.3C753.4 971.3 754.1 971.3 754.8 971.3C755.4 971.3 756.1 971.3 756.8 971.3C757.4 971.3 758.1 971.3 758.8 971.3C759.4 971.3 760.1 971.3 760.8 971.3C761.4 971.3 762.1 971.3 762.8 971.3C763.4 971.3 764.1 971.3 764.8 971.3C765.4 971.3 766.3 971.3 766.8 971.3C767.2 971.3 767.4 971.3 767.5 971.3" stroke="#000" stroke-width="1.45"/>
<path d="M95.3 971.45H793.4" stroke="#b4b4b4" stroke-width="0.9"/>
<path d="M95.2 962.6C95.7 962.5 97.2 962.2 98.2 962.0C99.2 961.7 100.2 961.4 101.2 961.1C102.2 960.8 103.2 960.5 104.2 960.1C105.2 959.7 106.2 959.3 107.2 958.9C108.2 958.5 109.2 958.1 110.2 957.6C111.2 957.1 112.2 956.7 113.2 956.2C114.2 955.7 115.2 955.2 116.2 954.7C117.2 954.2 118.2 953.8 119.2 953.3C120.2 952.8 121.2 952.3 122.2 951.8C123.2 951.2 124.2 950.7 125.2 950.2C126.2 949.6 127.2 949.1 128.2 948.5C129.2 947.9 130.2 947.4 131.2 946.8C132.2 946.2 133.2 945.6 134.2 944.9C135.2 944.3 136.2 943.7 137.2 943.0C138.2 942.4 139.2 941.7 140.2 941.0C141.2 940.3 142.2 939.6 143.2 938.9C144.2 938.2 145.2 937.5 146.2 936.8C147.2 936.1 148.2 935.3 149.2 934.6C150.2 933.8 151.2 933.1 152.2 932.3C153.2 931.5 154.2 930.8 155.2 930.0C156.2 929.2 157.2 928.4 158.2 927.6C159.2 926.8 160.2 926.0 161.2 925.1C162.2 924.3 163.2 923.4 164.2 922.5C165.2 921.5 166.2 920.6 167.2 919.6C168.2 918.6 169.2 917.5 170.2 916.4C171.2 915.3 172.2 914.2 173.2 913.0C174.2 911.8 175.2 910.6 176.2 909.3C177.2 908.0 178.2 906.7 179.2 905.4C180.2 904.0 181.2 902.6 182.2 901.3C183.2 899.9 184.2 898.5 185.2 897.1C186.2 895.7 187.2 894.2 188.2 892.8C189.2 891.4 190.2 890.0 191.2 888.6C192.2 887.2 193.2 885.9 194.2 884.5C195.2 883.2 196.2 881.9 197.2 880.6C198.2 879.3 199.2 878.1 200.2 876.9C201.2 875.6 202.2 874.4 203.2 873.2C204.2 872.0 205.2 870.8 206.2 869.6C207.2 868.4 208.2 867.2 209.2 865.9C210.2 864.7 211.2 863.4 212.2 862.1C213.2 860.8 214.2 859.5 215.2 858.1C216.2 856.7 217.2 855.3 218.2 853.8C219.2 852.4 220.2 850.9 221.2 849.4C222.2 847.9 223.2 846.3 224.2 844.8C225.2 843.3 226.2 841.8 227.2 840.3C228.2 838.8 229.2 837.3 230.2 835.9C231.2 834.5 232.2 833.1 233.2 831.8C234.2 830.4 235.2 829.2 236.2 828.0C237.2 826.7 238.2 825.6 239.2 824.5C240.2 823.4 241.2 822.4 242.2 821.4C243.2 820.4 244.2 819.5 245.2 818.5C246.2 817.6 247.2 816.8 248.2 815.9C249.2 815.0 250.2 814.2 251.2 813.3C252.2 812.4 253.2 811.6 254.2 810.7C255.2 809.8 256.2 808.9 257.2 808.0C258.2 807.1 259.2 806.2 260.2 805.3C261.2 804.3 262.2 803.4 263.2 802.4C264.2 801.5 265.2 800.5 266.2 799.6C267.2 798.7 268.2 797.9 269.2 797.0C270.2 796.2 271.2 795.4 272.2 794.7C273.2 794.0 274.2 793.3 275.2 792.7C276.2 792.0 277.2 791.5 278.2 791.0C279.2 790.5 280.2 790.1 281.2 789.7C282.2 789.4 283.2 789.1 284.2 788.9C285.2 788.6 286.2 788.5 287.2 788.3C288.2 788.2 289.2 788.1 290.2 788.1C291.2 788.1 292.2 788.1 293.2 788.2C294.2 788.3 295.2 788.4 296.2 788.6C297.2 788.8 298.2 789.0 299.2 789.2C300.2 789.4 301.2 789.7 302.2 789.9C303.2 790.2 304.2 790.5 305.2 790.8C306.2 791.2 307.2 791.5 308.2 791.9C309.2 792.3 310.2 792.8 311.2 793.2C312.2 793.7 313.2 794.2 314.2 794.7C315.2 795.2 316.2 795.8 317.2 796.4C318.2 797.0 319.2 797.6 320.2 798.3C321.2 799.0 322.2 799.6 323.2 800.4C324.2 801.1 325.2 801.9 326.2 802.7C327.2 803.6 328.2 804.5 329.2 805.4C330.2 806.3 331.2 807.3 332.2 808.3C333.2 809.4 334.2 810.4 335.2 811.6C336.2 812.7 337.2 813.9 338.2 815.1C339.2 816.4 340.2 817.7 341.2 819.0C342.2 820.3 343.2 821.7 344.2 823.1C345.2 824.5 346.2 825.9 347.2 827.4C348.2 828.8 349.2 830.3 350.2 831.8C351.2 833.2 352.2 834.7 353.2 836.2C354.2 837.6 355.2 839.0 356.2 840.5C357.2 841.9 358.2 843.3 359.2 844.7C360.2 846.1 361.2 847.5 362.2 848.9C363.2 850.4 364.2 851.8 365.2 853.2C366.2 854.6 367.2 856.1 368.2 857.5C369.2 859.0 370.2 860.5 371.2 861.9C372.2 863.4 373.2 864.9 374.2 866.4C375.2 867.9 376.2 869.4 377.2 871.0C378.2 872.5 379.2 874.0 380.2 875.5C381.2 877.1 382.2 878.6 383.2 880.1C384.2 881.6 385.2 883.1 386.2 884.6C387.2 886.0 388.2 887.5 389.2 888.9C390.2 890.3 391.2 891.7 392.2 893.0C393.2 894.3 394.2 895.6 395.2 896.9C396.2 898.1 397.2 899.4 398.2 900.6C399.2 901.8 400.2 903.0 401.2 904.2C402.2 905.4 403.2 906.6 404.2 907.8C405.2 908.9 406.2 910.1 407.2 911.3C408.2 912.4 409.2 913.6 410.2 914.7C411.2 915.9 412.2 917.0 413.2 918.1C414.2 919.2 415.2 920.3 416.2 921.4C417.2 922.4 418.2 923.5 419.2 924.5C420.2 925.5 421.2 926.5 422.2 927.5C423.2 928.5 424.2 929.4 425.2 930.4C426.2 931.3 427.2 932.2 428.2 933.0C429.2 933.9 430.2 934.8 431.2 935.6C432.2 936.4 433.2 937.2 434.2 938.0C435.2 938.8 436.2 939.5 437.2 940.3C438.2 941.0 439.2 941.7 440.2 942.5C441.2 943.2 442.2 943.9 443.2 944.6C444.2 945.3 445.2 946.0 446.2 946.6C447.2 947.3 448.2 947.9 449.2 948.6C450.2 949.2 451.2 949.8 452.2 950.4C453.2 951.0 454.2 951.5 455.2 952.0C456.2 952.6 457.2 953.1 458.2 953.6C459.2 954.1 460.2 954.5 461.2 955.0C462.2 955.4 463.2 955.8 464.2 956.2C465.2 956.6 466.2 957.0 467.2 957.4C468.2 957.8 469.2 958.1 470.2 958.5C471.2 958.9 472.2 959.2 473.2 959.5C474.2 959.9 475.2 960.2 476.2 960.5C477.2 960.8 478.2 961.1 479.2 961.4C480.2 961.7 481.2 962.0 482.2 962.3C483.2 962.6 484.2 962.9 485.2 963.2C486.2 963.5 487.2 963.8 488.2 964.1C489.2 964.3 490.2 964.6 491.2 964.9C492.2 965.1 493.2 965.4 494.2 965.6C495.2 965.9 496.2 966.1 497.2 966.3C498.2 966.5 499.2 966.7 500.2 966.9C501.2 967.1 502.2 967.3 503.2 967.5C504.2 967.7 505.2 967.9 506.2 968.1C507.2 968.2 508.2 968.4 509.2 968.6C510.2 968.7 511.2 968.9 512.2 969.0C513.2 969.1 514.2 969.3 515.2 969.4C516.2 969.5 517.2 969.6 518.2 969.8C519.2 969.9 520.2 970.0 521.2 970.1C522.2 970.1 523.2 970.2 524.2 970.3C525.2 970.4 526.2 970.5 527.2 970.5C528.2 970.6 529.2 970.6 530.2 970.7C531.2 970.7 532.2 970.8 533.2 970.8C534.2 970.8 535.2 970.9 536.2 970.9C537.2 970.9 538.2 971.0 539.2 971.0C540.2 971.0 541.2 971.0 542.2 971.0C543.2 971.0 544.2 971.1 545.2 971.1C546.2 971.1 547.2 971.1 548.2 971.1C549.2 971.1 550.2 971.1 551.2 971.1C552.2 971.2 553.2 971.2 554.2 971.2C555.2 971.2 556.2 971.2 557.2 971.2C558.2 971.2 559.2 971.2 560.2 971.2C561.2 971.2 562.2 971.2 563.2 971.2C564.2 971.2 565.2 971.2 566.2 971.2C567.2 971.2 568.2 971.2 569.2 971.2C570.2 971.2 571.2 971.2 572.2 971.2C573.2 971.2 574.2 971.2 575.2 971.2C576.2 971.2 577.2 971.2 578.2 971.2C579.2 971.2 580.2 971.2 581.2 971.2C582.2 971.2 583.2 971.2 584.2 971.2C585.2 971.2 586.2 971.2 587.2 971.2C588.2 971.2 589.2 971.2 590.2 971.2C591.2 971.2 592.2 971.2 593.2 971.2C594.2 971.2 595.2 971.2 596.2 971.2C597.2 971.2 598.2 971.2 599.2 971.2C600.2 971.2 601.2 971.2 602.2 971.2C603.2 971.2 604.2 971.2 605.2 971.2C606.2 971.2 607.2 971.2 608.2 971.2C609.2 971.2 610.2 971.3 611.2 971.3C612.2 971.3 613.2 971.3 614.2 971.3C615.2 971.3 616.2 971.3 617.2 971.3C618.2 971.3 619.2 971.3 620.2 971.3C621.2 971.3 622.2 971.3 623.2 971.3C624.2 971.3 625.2 971.3 626.2 971.3C627.2 971.3 628.2 971.3 629.2 971.3C630.2 971.3 631.2 971.3 632.2 971.3C633.2 971.3 634.2 971.3 635.2 971.3C636.2 971.3 637.2 971.3 638.2 971.3C639.2 971.3 640.2 971.3 641.2 971.3C642.2 971.3 643.2 971.3 644.2 971.3C645.2 971.3 646.2 971.3 647.2 971.3C648.2 971.3 649.2 971.3 650.2 971.3C651.2 971.3 652.2 971.3 653.2 971.3C654.2 971.3 655.2 971.3 656.2 971.3C657.2 971.3 658.2 971.3 659.2 971.3C660.2 971.3 661.2 971.3 662.2 971.3C663.2 971.3 664.2 971.3 665.2 971.3C666.2 971.3 667.2 971.3 668.2 971.3C669.2 971.3 670.2 971.3 671.2 971.3C672.2 971.3 673.2 971.3 674.2 971.3C675.2 971.3 676.2 971.3 677.2 971.3C678.2 971.3 679.2 971.3 680.2 971.3C681.2 971.3 682.2 971.3 683.2 971.3C684.2 971.3 685.2 971.3 686.2 971.3C687.2 971.3 688.2 971.3 689.2 971.3C690.2 971.3 691.2 971.3 692.2 971.3C693.2 971.3 694.2 971.3 695.2 971.3C696.2 971.3 697.2 971.3 698.2 971.3C699.2 971.3 700.2 971.3 701.2 971.3C702.2 971.3 703.2 971.3 704.2 971.3C705.2 971.3 706.2 971.3 707.2 971.3C708.2 971.3 709.2 971.3 710.2 971.3C711.2 971.3 712.2 971.3 713.2 971.3C714.2 971.3 715.2 971.3 716.2 971.3C717.2 971.3 718.2 971.3 719.2 971.3C720.2 971.3 721.2 971.3 722.2 971.3C723.2 971.3 724.2 971.3 725.2 971.3C726.2 971.3 727.2 971.3 728.2 971.3C729.2 971.3 730.2 971.3 731.2 971.3C732.2 971.3 733.2 971.3 734.2 971.3C735.2 971.3 736.2 971.3 737.2 971.3C738.2 971.3 739.2 971.3 740.2 971.3C741.2 971.3 742.2 971.3 743.2 971.3C744.2 971.3 745.2 971.3 746.2 971.3C747.2 971.3 748.2 971.3 749.2 971.3C750.2 971.3 751.2 971.3 752.2 971.3C753.2 971.3 754.2 971.3 755.2 971.3C756.2 971.3 757.2 971.3 758.2 971.3C759.2 971.3 760.2 971.3 761.2 971.3C762.2 971.3 763.2 971.3 764.2 971.3C765.2 971.3 766.7 971.3 767.2 971.3C767.8 971.3 767.5 971.3 767.5 971.3" stroke="#b9b9b9" stroke-width="1.45"/>
<rect x="95.3" y="781.4" width="698.1" height="196.9" stroke="#000" stroke-width="1.35"/>
<path d="M125.8 978.3v10.2M241.9 978.3v10.2M358.0 978.3v10.2M474.1 978.3v10.2M590.2 978.3v10.2M706.3 978.3v10.2M95.3 971.1h-10.2M95.3 940.1h-10.2M95.3 909.2h-10.2M95.3 878.2h-10.2M95.3 847.3h-10.2M95.3 816.4h-10.2M95.3 785.4h-10.2" stroke="#000" stroke-width="1.35"/>
</g>
<text class="a" x="126.7" y="1018.9" text-anchor="middle">0.00</text>
<text class="a" x="242.8" y="1018.9" text-anchor="middle">0.05</text>
<text class="a" x="358.9" y="1018.9" text-anchor="middle">0.10</text>
<text class="a" x="475.0" y="1018.9" text-anchor="middle">0.15</text>
<text class="a" x="591.1" y="1018.9" text-anchor="middle">0.20</text>
<text class="a" x="707.2" y="1018.9" text-anchor="middle">0.25</text>
<text class="a" transform="translate(73.0 970.4) rotate(-90)" text-anchor="middle">0</text>
<text class="a" transform="translate(73.0 939.4) rotate(-90)" text-anchor="middle">2</text>
<text class="a" transform="translate(73.0 908.5) rotate(-90)" text-anchor="middle">4</text>
<text class="a" transform="translate(73.0 877.5) rotate(-90)" text-anchor="middle">6</text>
<text class="a" transform="translate(73.0 846.6) rotate(-90)" text-anchor="middle">8</text>
<text class="a" transform="translate(73.0 783.3) rotate(-90)" text-anchor="middle">12</text>
<text class="b" transform="translate(24.8 915.1) rotate(-90)">Density</text>
<text class="b" x="231.3" y="1064.6" xml:space="preserve">N = 100000   Bandwidth = 0.003157</text>
<text class="t" x="296.0" y="763.1" xml:space="preserve">Posterior density of q<tspan class="s" dy="-14.2">DZ</tspan></text>
</svg></body></html>
